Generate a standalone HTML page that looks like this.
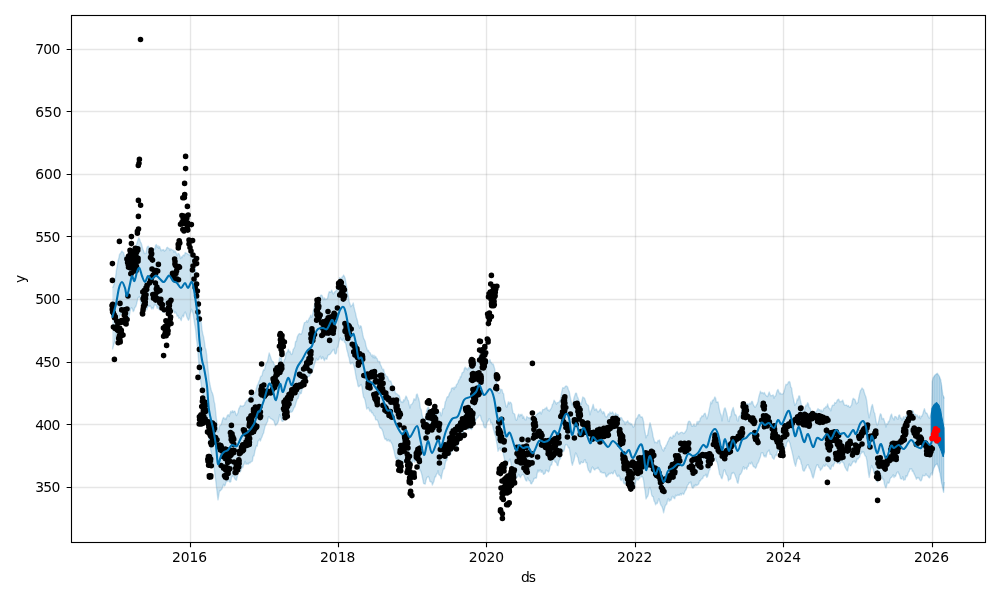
<!DOCTYPE html>
<html><head><meta charset="utf-8"><title>forecast</title>
<style>html,body{margin:0;padding:0;background:#fff;width:1000px;height:600px;overflow:hidden}</style></head>
<body>
<svg width="1000" height="600" viewBox="0 0 1000 600" style="display:block;font-family:'DejaVu Sans','Liberation Sans',sans-serif;font-size:13.89px">
<rect width="1000" height="600" fill="#fff"/>
<clipPath id="c"><rect x="71.5" y="15.5" width="914.0" height="527.0"/></clipPath>
<g clip-path="url(#c)">
<path d="M112.4 287.7L113.2 286.7L114.0 284.3L114.8 280.5L115.6 277.1L116.4 270.4L117.2 266.1L118.0 261.2L118.8 258.3L119.6 254.2L120.4 253.7L121.2 252.0L122.0 251.0L122.8 252.4L123.6 252.5L124.4 256.2L125.2 259.8L126.0 263.0L126.8 263.9L127.6 263.2L128.4 261.9L129.2 260.3L130.0 257.0L130.8 250.4L131.6 249.1L132.4 248.4L133.2 248.3L134.0 252.0L134.8 252.2L135.6 250.2L136.4 244.8L137.2 242.4L138.0 240.1L138.8 237.8L139.6 239.1L140.4 241.8L141.2 243.1L142.0 245.9L142.8 249.5L143.6 250.6L144.4 253.5L145.2 253.5L146.0 253.4L146.8 248.1L147.6 246.4L148.4 246.2L149.2 247.9L150.0 250.4L150.8 250.5L151.6 250.1L152.4 249.6L153.2 248.6L154.0 248.5L154.8 249.4L155.6 245.2L156.4 244.6L157.2 247.5L158.0 245.7L158.8 248.3L159.6 246.5L160.4 248.7L161.2 250.9L162.0 249.7L162.8 250.0L163.6 249.6L164.4 251.2L165.2 250.3L166.0 249.8L166.8 247.7L167.6 247.3L168.4 248.4L169.2 248.4L170.0 250.5L170.8 248.9L171.6 249.6L172.4 249.9L173.2 250.1L174.0 252.3L174.8 250.7L175.6 251.8L176.4 253.6L177.2 255.8L178.0 253.4L178.8 253.6L179.6 255.1L180.4 258.6L181.2 256.8L182.0 257.7L182.8 255.8L183.6 254.9L184.4 255.8L185.2 252.4L186.0 253.2L186.8 253.3L187.6 253.9L188.4 254.3L189.2 255.1L190.0 254.6L190.8 251.6L191.6 252.6L192.4 253.7L193.2 255.6L194.0 261.5L194.8 266.5L195.6 270.1L196.4 278.6L197.2 285.7L198.0 289.6L198.8 298.5L199.6 311.2L200.4 318.7L201.2 322.1L202.0 329.8L202.8 333.9L203.6 336.9L204.4 341.7L205.2 347.7L206.0 350.0L206.8 355.7L207.6 365.1L208.4 372.2L209.2 380.6L210.0 384.4L210.8 388.8L211.6 391.5L212.4 393.1L213.2 395.7L214.0 401.0L214.8 404.2L215.6 411.4L216.4 419.0L217.2 424.1L218.0 432.1L218.8 430.4L219.6 425.8L220.4 425.4L221.2 424.5L222.0 421.8L222.8 418.7L223.6 417.4L224.4 418.9L225.2 418.3L226.0 419.6L226.8 417.0L227.6 415.1L228.4 414.7L229.2 416.5L230.0 413.7L230.8 411.3L231.6 412.7L232.4 410.6L233.2 412.6L234.0 411.1L234.8 411.1L235.6 413.2L236.4 415.5L237.2 414.4L238.0 412.5L238.8 408.8L239.6 407.4L240.4 405.5L241.2 406.4L242.0 405.9L242.8 406.5L243.6 405.4L244.4 405.4L245.2 402.4L246.0 401.7L246.8 400.6L247.6 399.7L248.4 400.9L249.2 398.5L250.0 397.2L250.8 395.8L251.6 397.3L252.4 396.7L253.2 395.2L254.0 393.4L254.8 393.2L255.6 392.1L256.4 388.2L257.2 385.5L258.0 384.3L258.8 381.7L259.6 380.0L260.4 377.2L261.2 376.0L262.0 375.7L262.8 371.7L263.6 369.7L264.4 370.2L265.2 366.9L266.0 363.4L266.8 362.4L267.6 361.1L268.4 356.8L269.2 353.0L270.0 355.2L270.8 357.6L271.6 360.3L272.4 361.2L273.2 361.8L274.0 364.1L274.8 365.3L275.6 367.8L276.4 367.6L277.2 366.6L278.0 364.7L278.8 362.4L279.6 357.6L280.4 358.4L281.2 357.4L282.0 361.4L282.8 363.3L283.6 363.1L284.4 359.3L285.2 358.8L286.0 353.0L286.8 352.6L287.6 351.3L288.4 349.3L289.2 352.0L290.0 351.2L290.8 353.8L291.6 354.6L292.4 353.3L293.2 349.2L294.0 348.5L294.8 346.7L295.6 341.4L296.4 341.5L297.2 337.1L298.0 335.4L298.8 334.0L299.6 333.5L300.4 334.1L301.2 334.3L302.0 332.4L302.8 329.2L303.6 325.6L304.4 322.6L305.2 322.4L306.0 322.0L306.8 320.6L307.6 322.2L308.4 320.2L309.2 318.3L310.0 317.3L310.8 315.1L311.6 317.2L312.4 315.2L313.2 311.8L314.0 307.9L314.8 303.5L315.6 301.2L316.4 300.5L317.2 299.3L318.0 300.6L318.8 300.0L319.6 297.9L320.4 295.8L321.2 295.0L322.0 295.4L322.8 297.6L323.6 299.7L324.4 297.9L325.2 299.6L326.0 299.0L326.8 299.2L327.6 298.1L328.4 294.3L329.2 291.6L330.0 292.3L330.8 292.2L331.6 290.1L332.4 292.1L333.2 294.0L334.0 293.1L334.8 291.8L335.6 291.3L336.4 290.2L337.2 286.5L338.0 282.5L338.8 281.4L339.6 277.6L340.4 278.6L341.2 278.9L342.0 277.1L342.8 276.6L343.6 275.0L344.4 276.5L345.2 278.4L346.0 283.5L346.8 287.6L347.6 293.1L348.4 296.3L349.2 301.7L350.0 304.0L350.8 306.7L351.6 305.7L352.4 305.2L353.2 302.9L354.0 307.0L354.8 310.6L355.6 313.4L356.4 317.5L357.2 319.7L358.0 324.0L358.8 325.6L359.6 328.2L360.4 325.7L361.2 326.3L362.0 330.3L362.8 334.7L363.6 338.3L364.4 339.7L365.2 341.5L366.0 346.1L366.8 348.2L367.6 350.8L368.4 350.3L369.2 352.2L370.0 352.6L370.8 354.2L371.6 356.1L372.4 354.9L373.2 357.7L374.0 355.1L374.8 358.1L375.6 356.3L376.4 358.1L377.2 358.8L378.0 361.5L378.8 361.5L379.6 361.5L380.4 364.7L381.2 366.0L382.0 368.3L382.8 369.7L383.6 369.2L384.4 373.2L385.2 373.9L386.0 376.3L386.8 376.3L387.6 376.9L388.4 379.1L389.2 380.9L390.0 381.5L390.8 380.9L391.6 383.5L392.4 385.8L393.2 385.8L394.0 388.2L394.8 390.8L395.6 393.8L396.4 393.4L397.2 394.1L398.0 395.2L398.8 395.1L399.6 396.8L400.4 400.2L401.2 402.0L402.0 401.7L402.8 402.5L403.6 399.7L404.4 400.8L405.2 398.2L406.0 396.0L406.8 397.3L407.6 399.9L408.4 400.8L409.2 404.8L410.0 408.0L410.8 404.7L411.6 404.4L412.4 403.5L413.2 401.7L414.0 398.7L414.8 399.7L415.6 399.8L416.4 394.8L417.2 394.0L418.0 396.7L418.8 399.0L419.6 402.7L420.4 408.6L421.2 409.4L422.0 415.1L422.8 417.3L423.6 418.6L424.4 421.9L425.2 417.9L426.0 414.1L426.8 410.2L427.6 408.0L428.4 407.0L429.2 409.2L430.0 411.8L430.8 416.0L431.6 418.8L432.4 418.7L433.2 417.8L434.0 417.8L434.8 416.9L435.6 413.8L436.4 414.1L437.2 412.9L438.0 410.5L438.8 411.5L439.6 412.2L440.4 412.5L441.2 415.9L442.0 413.6L442.8 408.8L443.6 408.9L444.4 407.8L445.2 402.0L446.0 400.7L446.8 397.7L447.6 396.6L448.4 396.8L449.2 394.0L450.0 392.4L450.8 391.6L451.6 388.2L452.4 388.3L453.2 387.5L454.0 389.6L454.8 386.9L455.6 387.6L456.4 384.7L457.2 383.9L458.0 382.5L458.8 380.0L459.6 379.4L460.4 376.5L461.2 376.9L462.0 373.0L462.8 372.3L463.6 372.1L464.4 368.5L465.2 367.2L466.0 368.9L466.8 368.3L467.6 370.0L468.4 368.0L469.2 366.9L470.0 368.8L470.8 366.6L471.6 368.0L472.4 368.2L473.2 364.7L474.0 364.0L474.8 365.3L475.6 361.8L476.4 362.4L477.2 361.5L478.0 360.2L478.8 358.0L479.6 354.5L480.4 358.7L481.2 357.9L482.0 361.3L482.8 363.8L483.6 364.0L484.4 365.3L485.2 363.7L486.0 364.1L486.8 360.6L487.6 362.4L488.4 360.6L489.2 361.2L490.0 359.6L490.8 362.6L491.6 362.6L492.4 364.6L493.2 363.9L494.0 366.5L494.8 369.4L495.6 376.6L496.4 381.9L497.2 385.6L498.0 392.2L498.8 393.0L499.6 393.3L500.4 389.2L501.2 389.5L502.0 389.7L502.8 393.0L503.6 393.7L504.4 399.8L505.2 402.6L506.0 406.5L506.8 407.1L507.6 404.7L508.4 401.8L509.2 404.1L510.0 402.1L510.8 402.5L511.6 404.0L512.4 410.0L513.2 413.3L514.0 413.6L514.8 414.4L515.6 419.4L516.4 420.3L517.2 418.9L518.0 415.4L518.8 414.1L519.6 416.7L520.4 414.4L521.2 415.2L522.0 414.2L522.8 418.3L523.6 416.2L524.4 418.8L525.2 419.8L526.0 419.8L526.8 416.4L527.6 417.4L528.4 417.6L529.2 418.4L530.0 417.6L530.8 419.2L531.6 422.0L532.4 420.9L533.2 423.5L534.0 421.1L534.8 418.2L535.6 415.8L536.4 414.7L537.2 414.3L538.0 413.1L538.8 413.2L539.6 412.2L540.4 411.9L541.2 414.1L542.0 411.7L542.8 409.4L543.6 409.6L544.4 409.5L545.2 408.2L546.0 408.7L546.8 407.1L547.6 410.2L548.4 409.9L549.2 411.2L550.0 410.0L550.8 408.9L551.6 407.7L552.4 404.3L553.2 403.7L554.0 400.3L554.8 401.3L555.6 402.4L556.4 404.2L557.2 402.6L558.0 402.7L558.8 402.3L559.6 401.0L560.4 400.1L561.2 394.5L562.0 390.6L562.8 387.6L563.6 388.1L564.4 387.9L565.2 386.6L566.0 385.9L566.8 386.2L567.6 387.0L568.4 389.7L569.2 391.3L570.0 395.6L570.8 399.7L571.6 403.5L572.4 405.4L573.2 402.6L574.0 397.9L574.8 395.5L575.6 393.1L576.4 393.1L577.2 396.2L578.0 398.0L578.8 400.2L579.6 402.6L580.4 402.9L581.2 404.3L582.0 400.3L582.8 397.0L583.6 397.8L584.4 397.9L585.2 400.0L586.0 402.8L586.8 404.1L587.6 405.2L588.4 405.5L589.2 410.6L590.0 414.8L590.8 411.4L591.6 409.5L592.4 407.1L593.2 404.3L594.0 408.1L594.8 410.4L595.6 409.2L596.4 408.9L597.2 410.9L598.0 412.1L598.8 411.2L599.6 410.2L600.4 408.8L601.2 410.6L602.0 411.9L602.8 413.7L603.6 411.6L604.4 413.0L605.2 416.1L606.0 417.0L606.8 416.8L607.6 415.4L608.4 413.7L609.2 414.9L610.0 412.0L610.8 413.5L611.6 413.3L612.4 411.9L613.2 413.1L614.0 415.1L614.8 415.2L615.6 413.0L616.4 414.4L617.2 414.7L618.0 414.4L618.8 417.8L619.6 419.3L620.4 417.6L621.2 417.5L622.0 418.4L622.8 420.4L623.6 420.8L624.4 422.0L625.2 424.5L626.0 421.8L626.8 422.5L627.6 420.7L628.4 422.2L629.2 423.5L630.0 422.9L630.8 424.6L631.6 423.8L632.4 425.5L633.2 427.3L634.0 426.6L634.8 424.1L635.6 420.5L636.4 418.2L637.2 418.3L638.0 415.9L638.8 414.5L639.6 414.6L640.4 416.7L641.2 417.3L642.0 416.8L642.8 418.6L643.6 421.9L644.4 429.3L645.2 433.0L646.0 437.9L646.8 435.6L647.6 435.3L648.4 430.5L649.2 426.6L650.0 422.8L650.8 425.5L651.6 428.9L652.4 432.3L653.2 437.3L654.0 439.7L654.8 442.7L655.6 442.2L656.4 442.6L657.2 443.0L658.0 440.4L658.8 440.8L659.6 440.0L660.4 444.6L661.2 446.1L662.0 448.8L662.8 449.9L663.6 451.0L664.4 447.6L665.2 448.3L666.0 445.4L666.8 444.5L667.6 442.1L668.4 440.8L669.2 438.8L670.0 437.3L670.8 437.0L671.6 438.2L672.4 438.1L673.2 435.2L674.0 436.6L674.8 435.8L675.6 433.3L676.4 432.5L677.2 431.5L678.0 433.6L678.8 434.1L679.6 433.4L680.4 432.6L681.2 432.4L682.0 432.3L682.8 432.7L683.6 433.6L684.4 433.2L685.2 431.8L686.0 431.1L686.8 428.9L687.6 424.3L688.4 421.6L689.2 421.2L690.0 421.6L690.8 423.3L691.6 425.8L692.4 426.3L693.2 425.8L694.0 424.0L694.8 426.3L695.6 426.4L696.4 424.3L697.2 421.4L698.0 424.0L698.8 421.1L699.6 421.6L700.4 418.0L701.2 417.8L702.0 415.8L702.8 416.6L703.6 415.0L704.4 413.5L705.2 413.3L706.0 416.2L706.8 418.9L707.6 416.9L708.4 414.3L709.2 409.9L710.0 406.1L710.8 401.9L711.6 403.8L712.4 400.3L713.2 400.6L714.0 399.0L714.8 396.9L715.6 398.2L716.4 402.3L717.2 401.9L718.0 401.9L718.8 406.5L719.6 410.6L720.4 413.7L721.2 415.2L722.0 420.8L722.8 415.6L723.6 411.6L724.4 408.4L725.2 407.9L726.0 410.8L726.8 413.8L727.6 417.5L728.4 421.4L729.2 421.5L730.0 416.6L730.8 416.6L731.6 411.8L732.4 409.5L733.2 407.4L734.0 410.9L734.8 414.7L735.6 414.6L736.4 416.1L737.2 420.4L738.0 421.1L738.8 416.7L739.6 416.0L740.4 415.3L741.2 412.3L742.0 408.4L742.8 409.3L743.6 408.1L744.4 406.3L745.2 405.2L746.0 405.5L746.8 403.9L747.6 403.8L748.4 404.2L749.2 404.1L750.0 403.0L750.8 404.0L751.6 401.5L752.4 401.4L753.2 404.3L754.0 405.8L754.8 407.0L755.6 407.1L756.4 405.1L757.2 403.8L758.0 401.4L758.8 397.0L759.6 394.3L760.4 391.2L761.2 393.0L762.0 392.5L762.8 392.8L763.6 393.7L764.4 392.4L765.2 394.4L766.0 395.5L766.8 396.1L767.6 396.6L768.4 394.1L769.2 391.9L770.0 394.4L770.8 395.9L771.6 395.6L772.4 395.5L773.2 394.9L774.0 398.2L774.8 396.2L775.6 396.1L776.4 393.1L777.2 390.6L778.0 389.4L778.8 391.5L779.6 393.8L780.4 392.9L781.2 394.4L782.0 394.2L782.8 394.0L783.6 392.8L784.4 390.3L785.2 387.2L786.0 384.3L786.8 384.7L787.6 383.9L788.4 382.0L789.2 381.5L790.0 382.3L790.8 387.1L791.6 387.9L792.4 393.9L793.2 397.6L794.0 401.5L794.8 405.3L795.6 404.3L796.4 402.8L797.2 399.0L798.0 400.0L798.8 395.9L799.6 396.0L800.4 400.3L801.2 403.7L802.0 407.4L802.8 410.1L803.6 413.8L804.4 410.8L805.2 406.9L806.0 405.0L806.8 405.9L807.6 402.7L808.4 403.9L809.2 407.6L810.0 407.8L810.8 410.5L811.6 414.7L812.4 417.4L813.2 417.1L814.0 414.9L814.8 411.9L815.6 412.7L816.4 411.5L817.2 410.2L818.0 408.6L818.8 409.9L819.6 409.6L820.4 411.0L821.2 410.0L822.0 411.9L822.8 411.0L823.6 408.9L824.4 407.9L825.2 408.0L826.0 406.4L826.8 407.1L827.6 404.0L828.4 407.1L829.2 408.5L830.0 408.7L830.8 410.9L831.6 407.4L832.4 405.3L833.2 405.3L834.0 405.2L834.8 402.4L835.6 403.2L836.4 402.5L837.2 400.2L838.0 399.5L838.8 399.2L839.6 401.7L840.4 401.8L841.2 401.2L842.0 401.7L842.8 400.1L843.6 403.1L844.4 404.9L845.2 405.3L846.0 405.3L846.8 405.0L847.6 406.5L848.4 405.6L849.2 407.0L850.0 407.3L850.8 406.0L851.6 405.2L852.4 400.6L853.2 398.3L854.0 399.3L854.8 399.3L855.6 401.2L856.4 403.9L857.2 403.0L858.0 402.4L858.8 397.6L859.6 393.9L860.4 390.6L861.2 389.8L862.0 388.0L862.8 388.9L863.6 389.8L864.4 393.1L865.2 395.2L866.0 397.3L866.8 401.4L867.6 408.2L868.4 414.1L869.2 417.9L870.0 414.1L870.8 410.6L871.6 406.5L872.4 404.5L873.2 408.1L874.0 412.1L874.8 413.5L875.6 418.7L876.4 423.0L877.2 425.4L878.0 423.9L878.8 420.7L879.6 416.6L880.4 413.8L881.2 414.7L882.0 419.1L882.8 418.5L883.6 418.5L884.4 421.1L885.2 423.5L886.0 427.0L886.8 423.6L887.6 424.2L888.4 421.4L889.2 421.7L890.0 418.3L890.8 415.4L891.6 414.1L892.4 417.7L893.2 418.3L894.0 420.0L894.8 416.5L895.6 416.6L896.4 417.3L897.2 418.8L898.0 419.2L898.8 415.3L899.6 414.9L900.4 418.1L901.2 418.0L902.0 420.3L902.8 418.5L903.6 416.6L904.4 419.3L905.2 416.7L906.0 416.2L906.8 414.5L907.6 414.1L908.4 415.2L909.2 415.5L910.0 414.9L910.8 411.2L911.6 412.7L912.4 410.5L913.2 411.5L914.0 414.9L914.8 414.1L915.6 414.5L916.4 415.9L917.2 415.0L918.0 416.8L918.8 417.8L919.6 415.8L920.4 418.7L921.2 416.1L922.0 416.2L922.8 414.0L923.6 411.1L924.4 408.6L925.2 411.4L926.0 413.3L926.8 413.1L927.6 414.8L928.4 416.9L929.2 418.2L930.0 417.4L930.8 413.3L931.6 411.2L932.2 382.0L933.0 378.0L935.0 375.0L937.2 373.2L939.2 376.0L940.8 380.0L941.6 385.6L942.8 394.4L944.4 398.4L944.4 482.0L943.6 492.4L941.6 483.2L940.0 473.6L938.4 467.2L937.2 464.0L935.6 464.8L933.6 468.8L932.2 475.0L931.6 473.0L930.8 473.8L930.0 477.0L929.2 477.9L928.4 477.0L927.6 475.7L926.8 475.3L926.0 473.8L925.2 475.6L924.4 475.7L923.6 475.7L922.8 475.3L922.0 478.7L921.2 480.8L920.4 480.8L919.6 479.7L918.8 477.6L918.0 478.3L917.2 477.5L916.4 479.3L915.6 477.0L914.8 475.2L914.0 473.7L913.2 471.1L912.4 471.6L911.6 468.8L910.8 469.2L910.0 468.8L909.2 471.4L908.4 472.5L907.6 475.1L906.8 476.7L906.0 475.7L905.2 479.8L904.4 479.4L903.6 480.2L902.8 476.7L902.0 478.9L901.2 479.0L900.4 478.4L899.6 475.2L898.8 473.7L898.0 471.8L897.2 472.3L896.4 473.9L895.6 476.4L894.8 475.8L894.0 477.6L893.2 474.8L892.4 476.2L891.6 477.4L890.8 477.6L890.0 479.3L889.2 482.6L888.4 483.2L887.6 482.1L886.8 485.1L886.0 487.9L885.2 486.6L884.4 484.2L883.6 479.3L882.8 479.2L882.0 476.9L881.2 475.2L880.4 475.8L879.6 478.6L878.8 477.7L878.0 478.7L877.2 482.1L876.4 480.1L875.6 475.1L874.8 473.4L874.0 472.9L873.2 469.1L872.4 467.7L871.6 465.5L870.8 468.6L870.0 472.7L869.2 477.5L868.4 472.4L867.6 466.4L866.8 460.2L866.0 456.6L865.2 456.0L864.4 454.3L863.6 451.7L862.8 452.5L862.0 451.4L861.2 453.5L860.4 454.1L859.6 457.3L858.8 457.6L858.0 459.3L857.2 458.5L856.4 461.7L855.6 462.9L854.8 461.0L854.0 461.7L853.2 461.3L852.4 462.9L851.6 464.3L850.8 465.9L850.0 465.7L849.2 463.9L848.4 466.9L847.6 471.1L846.8 470.4L846.0 469.0L845.2 467.7L844.4 465.5L843.6 462.8L842.8 462.6L842.0 460.6L841.2 461.8L840.4 462.9L839.6 463.7L838.8 462.7L838.0 462.8L837.2 463.4L836.4 461.0L835.6 459.4L834.8 463.1L834.0 463.9L833.2 466.4L832.4 465.0L831.6 466.4L830.8 469.4L830.0 469.2L829.2 467.7L828.4 466.4L827.6 466.2L826.8 465.1L826.0 464.1L825.2 466.1L824.4 466.3L823.6 465.1L822.8 466.7L822.0 468.6L821.2 469.2L820.4 470.5L819.6 467.6L818.8 467.5L818.0 464.9L817.2 464.7L816.4 466.1L815.6 468.5L814.8 471.4L814.0 475.4L813.2 478.1L812.4 476.7L811.6 473.5L810.8 470.9L810.0 468.8L809.2 468.1L808.4 464.8L807.6 465.0L806.8 465.3L806.0 467.7L805.2 468.7L804.4 471.0L803.6 471.0L802.8 470.1L802.0 465.3L801.2 463.4L800.4 459.3L799.6 459.3L798.8 456.3L798.0 458.4L797.2 459.1L796.4 462.4L795.6 466.3L794.8 464.0L794.0 461.1L793.2 456.9L792.4 453.3L791.6 449.9L790.8 447.0L790.0 443.5L789.2 441.4L788.4 440.2L787.6 441.9L786.8 442.3L786.0 446.6L785.2 446.0L784.4 449.8L783.6 448.6L782.8 452.4L782.0 454.7L781.2 451.8L780.4 449.9L779.6 450.1L778.8 451.1L778.0 450.5L777.2 452.1L776.4 455.6L775.6 455.0L774.8 457.0L774.0 459.3L773.2 458.3L772.4 457.8L771.6 454.9L770.8 454.4L770.0 454.3L769.2 450.0L768.4 451.2L767.6 451.4L766.8 453.7L766.0 457.2L765.2 455.2L764.4 456.8L763.6 455.4L762.8 452.7L762.0 452.8L761.2 453.2L760.4 456.9L759.6 458.8L758.8 461.3L758.0 462.8L757.2 463.9L756.4 466.8L755.6 468.2L754.8 467.2L754.0 466.9L753.2 466.2L752.4 464.0L751.6 462.1L750.8 464.1L750.0 463.4L749.2 463.2L748.4 466.3L747.6 466.3L746.8 469.4L746.0 467.8L745.2 468.1L744.4 469.2L743.6 466.6L742.8 468.5L742.0 471.5L741.2 473.1L740.4 474.5L739.6 474.5L738.8 479.2L738.0 483.3L737.2 482.3L736.4 478.8L735.6 476.9L734.8 474.5L734.0 473.1L733.2 472.4L732.4 473.6L731.6 473.3L730.8 478.5L730.0 479.4L729.2 479.5L728.4 481.0L727.6 476.2L726.8 475.1L726.0 474.1L725.2 470.9L724.4 469.6L723.6 471.4L722.8 475.8L722.0 478.8L721.2 477.9L720.4 475.1L719.6 474.6L718.8 470.2L718.0 465.7L717.2 461.9L716.4 461.2L715.6 458.2L714.8 458.4L714.0 460.6L713.2 461.7L712.4 462.7L711.6 462.3L710.8 464.1L710.0 469.6L709.2 470.6L708.4 473.3L707.6 476.3L706.8 477.4L706.0 474.2L705.2 475.6L704.4 475.8L703.6 476.0L702.8 478.3L702.0 478.8L701.2 479.3L700.4 481.0L699.6 480.7L698.8 483.9L698.0 484.6L697.2 485.2L696.4 485.5L695.6 484.5L694.8 486.6L694.0 485.2L693.2 488.1L692.4 488.1L691.6 486.0L690.8 481.9L690.0 483.0L689.2 482.5L688.4 484.5L687.6 485.0L686.8 487.6L686.0 489.9L685.2 490.8L684.4 492.8L683.6 494.4L682.8 493.3L682.0 493.4L681.2 495.1L680.4 493.6L679.6 495.2L678.8 495.4L678.0 494.6L677.2 495.6L676.4 495.8L675.6 495.1L674.8 498.7L674.0 498.3L673.2 496.6L672.4 496.3L671.6 498.7L670.8 500.5L670.0 499.4L669.2 501.3L668.4 498.6L667.6 500.1L666.8 504.1L666.0 504.8L665.2 506.0L664.4 509.2L663.6 512.8L662.8 509.0L662.0 506.7L661.2 505.6L660.4 504.0L659.6 500.9L658.8 498.6L658.0 501.2L657.2 503.5L656.4 503.2L655.6 504.8L654.8 502.1L654.0 500.9L653.2 496.7L652.4 496.4L651.6 494.7L650.8 490.1L650.0 487.6L649.2 488.4L648.4 494.2L647.6 496.5L646.8 497.4L646.0 499.0L645.2 491.4L644.4 487.2L643.6 480.7L642.8 477.3L642.0 476.4L641.2 477.0L640.4 475.4L639.6 478.5L638.8 478.8L638.0 480.2L637.2 478.9L636.4 478.9L635.6 481.9L634.8 486.3L634.0 487.1L633.2 486.1L632.4 487.0L631.6 486.7L630.8 483.5L630.0 482.0L629.2 483.6L628.4 483.3L627.6 484.6L626.8 484.5L626.0 483.4L625.2 482.6L624.4 483.9L623.6 482.8L622.8 478.8L622.0 479.0L621.2 480.6L620.4 479.5L619.6 476.4L618.8 475.1L618.0 476.7L617.2 476.2L616.4 474.7L615.6 473.2L614.8 470.4L614.0 471.6L613.2 473.7L612.4 473.7L611.6 472.5L610.8 473.3L610.0 473.9L609.2 473.3L608.4 475.0L607.6 475.0L606.8 476.8L606.0 476.7L605.2 473.5L604.4 472.5L603.6 473.1L602.8 472.6L602.0 473.0L601.2 471.6L600.4 472.2L599.6 470.1L598.8 469.3L598.0 467.3L597.2 468.7L596.4 468.5L595.6 468.6L594.8 470.1L594.0 469.4L593.2 467.9L592.4 467.0L591.6 468.8L590.8 472.2L590.0 472.8L589.2 471.0L588.4 470.2L587.6 467.4L586.8 462.8L586.0 462.9L585.2 459.7L584.4 460.1L583.6 462.4L582.8 462.7L582.0 462.4L581.2 461.6L580.4 463.9L579.6 464.2L578.8 462.0L578.0 457.7L577.2 456.5L576.4 453.6L575.6 453.0L574.8 456.4L574.0 460.2L573.2 462.2L572.4 465.3L571.6 462.5L570.8 456.9L570.0 452.8L569.2 447.4L568.4 448.1L567.6 445.8L566.8 444.6L566.0 444.5L565.2 445.6L564.4 449.6L563.6 451.5L562.8 450.9L562.0 452.1L561.2 455.0L560.4 458.8L559.6 459.5L558.8 461.4L558.0 465.7L557.2 465.4L556.4 462.3L555.6 462.3L554.8 461.3L554.0 458.0L553.2 459.4L552.4 461.7L551.6 465.0L550.8 464.9L550.0 467.1L549.2 470.8L548.4 471.9L547.6 471.1L546.8 470.7L546.0 469.9L545.2 473.2L544.4 473.7L543.6 474.4L542.8 472.5L542.0 470.4L541.2 472.4L540.4 469.8L539.6 470.4L538.8 472.0L538.0 470.0L537.2 473.5L536.4 478.1L535.6 477.9L534.8 478.5L534.0 478.4L533.2 481.2L532.4 482.1L531.6 483.9L530.8 483.7L530.0 480.8L529.2 480.9L528.4 479.3L527.6 477.6L526.8 481.1L526.0 480.7L525.2 479.2L524.4 476.6L523.6 474.8L522.8 474.4L522.0 475.0L521.2 475.9L520.4 477.6L519.6 476.4L518.8 474.2L518.0 476.1L517.2 477.3L516.4 477.4L515.6 478.7L514.8 475.8L514.0 472.8L513.2 473.1L512.4 469.6L511.6 468.2L510.8 462.5L510.0 459.1L509.2 460.4L508.4 462.0L507.6 464.7L506.8 467.3L506.0 465.9L505.2 464.4L504.4 458.6L503.6 455.3L502.8 449.6L502.0 447.8L501.2 447.1L500.4 450.4L499.6 447.9L498.8 449.0L498.0 451.3L497.2 445.4L496.4 440.6L495.6 436.1L494.8 434.2L494.0 431.3L493.2 428.5L492.4 424.4L491.6 422.4L490.8 423.2L490.0 419.6L489.2 418.6L488.4 420.5L487.6 421.5L486.8 423.1L486.0 427.7L485.2 427.7L484.4 427.6L483.6 425.4L482.8 421.7L482.0 420.9L481.2 419.0L480.4 415.4L479.6 415.2L478.8 415.9L478.0 417.5L477.2 418.1L476.4 418.6L475.6 420.8L474.8 422.5L474.0 425.3L473.2 424.0L472.4 427.8L471.6 429.5L470.8 428.9L470.0 428.3L469.2 428.5L468.4 429.5L467.6 429.0L466.8 426.4L466.0 427.1L465.2 429.3L464.4 429.6L463.6 430.8L462.8 435.4L462.0 435.9L461.2 437.6L460.4 436.6L459.6 439.2L458.8 443.1L458.0 444.5L457.2 446.4L456.4 448.5L455.6 450.0L454.8 448.9L454.0 450.1L453.2 449.2L452.4 450.9L451.6 449.8L450.8 454.2L450.0 454.9L449.2 455.7L448.4 455.4L447.6 456.7L446.8 460.5L446.0 460.0L445.2 463.7L444.4 468.8L443.6 468.8L442.8 470.9L442.0 474.4L441.2 478.9L440.4 475.9L439.6 475.3L438.8 474.7L438.0 470.6L437.2 473.6L436.4 474.5L435.6 477.0L434.8 477.0L434.0 481.2L433.2 483.0L432.4 485.0L431.6 481.8L430.8 482.0L430.0 481.5L429.2 478.3L428.4 476.4L427.6 477.0L426.8 477.8L426.0 480.4L425.2 484.0L424.4 483.9L423.6 483.4L422.8 479.5L422.0 475.5L421.2 472.4L420.4 470.2L419.6 469.8L418.8 465.3L418.0 462.2L417.2 457.2L416.4 457.8L415.6 459.6L414.8 462.3L414.0 460.4L413.2 459.9L412.4 462.5L411.6 465.1L410.8 466.6L410.0 467.1L409.2 464.8L408.4 463.2L407.6 460.6L406.8 459.5L406.0 459.4L405.2 459.2L404.4 461.3L403.6 462.6L402.8 462.6L402.0 462.7L401.2 463.6L400.4 463.5L399.6 463.4L398.8 460.3L398.0 459.6L397.2 457.9L396.4 459.3L395.6 457.9L394.8 454.7L394.0 450.9L393.2 448.0L392.4 444.8L391.6 443.2L390.8 441.8L390.0 440.2L389.2 441.6L388.4 439.5L387.6 440.7L386.8 440.7L386.0 438.6L385.2 439.4L384.4 437.8L383.6 434.9L382.8 431.4L382.0 429.6L381.2 428.2L380.4 428.2L379.6 427.0L378.8 424.1L378.0 421.4L377.2 420.1L376.4 419.6L375.6 419.7L374.8 416.1L374.0 415.8L373.2 414.5L372.4 412.4L371.6 412.9L370.8 410.1L370.0 411.4L369.2 409.8L368.4 407.6L367.6 408.0L366.8 409.0L366.0 405.3L365.2 400.7L364.4 398.3L363.6 397.3L362.8 393.3L362.0 386.9L361.2 384.4L360.4 385.2L359.6 386.1L358.8 386.7L358.0 386.0L357.2 381.2L356.4 378.8L355.6 374.3L354.8 369.4L354.0 366.0L353.2 363.6L352.4 362.5L351.6 363.1L350.8 364.1L350.0 363.1L349.2 358.3L348.4 356.1L347.6 352.2L346.8 349.7L346.0 344.8L345.2 342.3L344.4 342.2L343.6 338.2L342.8 340.5L342.0 340.3L341.2 339.6L340.4 337.7L339.6 340.0L338.8 342.6L338.0 346.9L337.2 347.7L336.4 353.1L335.6 354.0L334.8 353.4L334.0 349.3L333.2 349.8L332.4 350.8L331.6 352.0L330.8 353.3L330.0 354.3L329.2 354.7L328.4 354.8L327.6 356.4L326.8 359.3L326.0 358.7L325.2 358.3L324.4 360.8L323.6 359.0L322.8 356.8L322.0 358.4L321.2 359.0L320.4 356.2L319.6 356.8L318.8 359.5L318.0 360.0L317.2 360.0L316.4 358.3L315.6 361.2L314.8 363.0L314.0 366.1L313.2 368.5L312.4 371.2L311.6 372.9L310.8 373.2L310.0 375.2L309.2 376.4L308.4 376.4L307.6 376.9L306.8 379.3L306.0 379.3L305.2 382.2L304.4 385.0L303.6 384.7L302.8 386.6L302.0 389.6L301.2 393.5L300.4 393.9L299.6 392.0L298.8 396.0L298.0 398.7L297.2 399.1L296.4 401.6L295.6 404.2L294.8 407.1L294.0 407.5L293.2 409.8L292.4 411.4L291.6 412.0L290.8 412.4L290.0 410.5L289.2 410.3L288.4 411.4L287.6 410.1L286.8 411.8L286.0 411.3L285.2 414.7L284.4 417.9L283.6 420.6L282.8 421.4L282.0 421.2L281.2 419.2L280.4 415.7L279.6 414.8L278.8 419.7L278.0 422.4L277.2 423.9L276.4 424.4L275.6 425.6L274.8 423.9L274.0 421.2L273.2 420.0L272.4 419.9L271.6 418.7L270.8 418.7L270.0 418.1L269.2 416.6L268.4 416.9L267.6 421.5L266.8 422.8L266.0 424.8L265.2 426.1L264.4 429.2L263.6 433.1L262.8 434.4L262.0 437.0L261.2 438.5L260.4 441.1L259.6 439.0L258.8 440.8L258.0 441.1L257.2 446.2L256.4 445.7L255.6 448.5L254.8 451.6L254.0 456.0L253.2 456.2L252.4 461.1L251.6 461.6L250.8 462.0L250.0 463.1L249.2 462.6L248.4 464.1L247.6 464.0L246.8 463.2L246.0 464.4L245.2 461.3L244.4 463.7L243.6 464.7L242.8 467.7L242.0 466.3L241.2 469.6L240.4 471.7L239.6 471.7L238.8 470.3L238.0 473.0L237.2 477.0L236.4 480.3L235.6 479.7L234.8 478.7L234.0 477.1L233.2 475.0L232.4 476.5L231.6 477.1L230.8 481.7L230.0 482.2L229.2 481.5L228.4 479.0L227.6 481.1L226.8 481.6L226.0 482.1L225.2 485.2L224.4 486.0L223.6 484.3L222.8 486.4L222.0 488.9L221.2 489.7L220.4 490.9L219.6 490.5L218.8 494.9L218.0 499.9L217.2 493.1L216.4 486.3L215.6 479.5L214.8 473.4L214.0 466.0L213.2 461.2L212.4 457.6L211.6 453.7L210.8 450.8L210.0 445.2L209.2 443.8L208.4 433.8L207.6 422.7L206.8 414.3L206.0 411.8L205.2 407.1L204.4 399.4L203.6 395.3L202.8 392.5L202.0 392.0L201.2 384.1L200.4 379.3L199.6 373.3L198.8 362.8L198.0 352.9L197.2 344.2L196.4 338.4L195.6 329.5L194.8 324.9L194.0 319.6L193.2 314.2L192.4 311.6L191.6 309.2L190.8 311.5L190.0 314.4L189.2 318.9L188.4 320.3L187.6 318.6L186.8 316.8L186.0 313.9L185.2 312.1L184.4 313.1L183.6 316.9L182.8 315.3L182.0 317.2L181.2 320.7L180.4 319.0L179.6 317.8L178.8 318.2L178.0 315.6L177.2 316.2L176.4 313.5L175.6 312.0L174.8 313.3L174.0 311.7L173.2 310.3L172.4 311.0L171.6 311.6L170.8 311.6L170.0 308.8L169.2 305.7L168.4 305.6L167.6 306.3L166.8 308.9L166.0 310.7L165.2 311.6L164.4 311.8L163.6 312.3L162.8 312.2L162.0 310.2L161.2 308.4L160.4 309.6L159.6 310.0L158.8 308.8L158.0 306.5L157.2 308.4L156.4 305.4L155.6 305.2L154.8 304.2L154.0 306.4L153.2 308.9L152.4 307.7L151.6 309.1L150.8 306.8L150.0 305.8L149.2 306.5L148.4 305.6L147.6 306.9L146.8 309.8L146.0 308.3L145.2 309.2L144.4 308.9L143.6 309.0L142.8 305.5L142.0 305.8L141.2 305.4L140.4 300.3L139.6 296.4L138.8 297.3L138.0 298.0L137.2 301.4L136.4 304.7L135.6 306.9L134.8 307.5L134.0 310.5L133.2 311.5L132.4 308.7L131.6 307.7L130.8 308.4L130.0 311.8L129.2 316.3L128.4 317.0L127.6 321.1L126.8 324.9L126.0 321.9L125.2 317.8L124.4 315.7L123.6 315.7L122.8 314.8L122.0 310.5L121.2 313.8L120.4 314.8L119.6 315.7L118.8 321.0L118.0 323.5L117.2 330.1L116.4 333.2L115.6 337.0L114.8 341.6L114.0 343.7L113.2 346.8L112.4 349.5Z" fill="#0072B2" fill-opacity=".2"/>
<path d="M112.4 287.7L113.2 286.7L114.0 284.3L114.8 280.5L115.6 277.1L116.4 270.4L117.2 266.1L118.0 261.2L118.8 258.3L119.6 254.2L120.4 253.7L121.2 252.0L122.0 251.0L122.8 252.4L123.6 252.5L124.4 256.2L125.2 259.8L126.0 263.0L126.8 263.9L127.6 263.2L128.4 261.9L129.2 260.3L130.0 257.0L130.8 250.4L131.6 249.1L132.4 248.4L133.2 248.3L134.0 252.0L134.8 252.2L135.6 250.2L136.4 244.8L137.2 242.4L138.0 240.1L138.8 237.8L139.6 239.1L140.4 241.8L141.2 243.1L142.0 245.9L142.8 249.5L143.6 250.6L144.4 253.5L145.2 253.5L146.0 253.4L146.8 248.1L147.6 246.4L148.4 246.2L149.2 247.9L150.0 250.4L150.8 250.5L151.6 250.1L152.4 249.6L153.2 248.6L154.0 248.5L154.8 249.4L155.6 245.2L156.4 244.6L157.2 247.5L158.0 245.7L158.8 248.3L159.6 246.5L160.4 248.7L161.2 250.9L162.0 249.7L162.8 250.0L163.6 249.6L164.4 251.2L165.2 250.3L166.0 249.8L166.8 247.7L167.6 247.3L168.4 248.4L169.2 248.4L170.0 250.5L170.8 248.9L171.6 249.6L172.4 249.9L173.2 250.1L174.0 252.3L174.8 250.7L175.6 251.8L176.4 253.6L177.2 255.8L178.0 253.4L178.8 253.6L179.6 255.1L180.4 258.6L181.2 256.8L182.0 257.7L182.8 255.8L183.6 254.9L184.4 255.8L185.2 252.4L186.0 253.2L186.8 253.3L187.6 253.9L188.4 254.3L189.2 255.1L190.0 254.6L190.8 251.6L191.6 252.6L192.4 253.7L193.2 255.6L194.0 261.5L194.8 266.5L195.6 270.1L196.4 278.6L197.2 285.7L198.0 289.6L198.8 298.5L199.6 311.2L200.4 318.7L201.2 322.1L202.0 329.8L202.8 333.9L203.6 336.9L204.4 341.7L205.2 347.7L206.0 350.0L206.8 355.7L207.6 365.1L208.4 372.2L209.2 380.6L210.0 384.4L210.8 388.8L211.6 391.5L212.4 393.1L213.2 395.7L214.0 401.0L214.8 404.2L215.6 411.4L216.4 419.0L217.2 424.1L218.0 432.1L218.8 430.4L219.6 425.8L220.4 425.4L221.2 424.5L222.0 421.8L222.8 418.7L223.6 417.4L224.4 418.9L225.2 418.3L226.0 419.6L226.8 417.0L227.6 415.1L228.4 414.7L229.2 416.5L230.0 413.7L230.8 411.3L231.6 412.7L232.4 410.6L233.2 412.6L234.0 411.1L234.8 411.1L235.6 413.2L236.4 415.5L237.2 414.4L238.0 412.5L238.8 408.8L239.6 407.4L240.4 405.5L241.2 406.4L242.0 405.9L242.8 406.5L243.6 405.4L244.4 405.4L245.2 402.4L246.0 401.7L246.8 400.6L247.6 399.7L248.4 400.9L249.2 398.5L250.0 397.2L250.8 395.8L251.6 397.3L252.4 396.7L253.2 395.2L254.0 393.4L254.8 393.2L255.6 392.1L256.4 388.2L257.2 385.5L258.0 384.3L258.8 381.7L259.6 380.0L260.4 377.2L261.2 376.0L262.0 375.7L262.8 371.7L263.6 369.7L264.4 370.2L265.2 366.9L266.0 363.4L266.8 362.4L267.6 361.1L268.4 356.8L269.2 353.0L270.0 355.2L270.8 357.6L271.6 360.3L272.4 361.2L273.2 361.8L274.0 364.1L274.8 365.3L275.6 367.8L276.4 367.6L277.2 366.6L278.0 364.7L278.8 362.4L279.6 357.6L280.4 358.4L281.2 357.4L282.0 361.4L282.8 363.3L283.6 363.1L284.4 359.3L285.2 358.8L286.0 353.0L286.8 352.6L287.6 351.3L288.4 349.3L289.2 352.0L290.0 351.2L290.8 353.8L291.6 354.6L292.4 353.3L293.2 349.2L294.0 348.5L294.8 346.7L295.6 341.4L296.4 341.5L297.2 337.1L298.0 335.4L298.8 334.0L299.6 333.5L300.4 334.1L301.2 334.3L302.0 332.4L302.8 329.2L303.6 325.6L304.4 322.6L305.2 322.4L306.0 322.0L306.8 320.6L307.6 322.2L308.4 320.2L309.2 318.3L310.0 317.3L310.8 315.1L311.6 317.2L312.4 315.2L313.2 311.8L314.0 307.9L314.8 303.5L315.6 301.2L316.4 300.5L317.2 299.3L318.0 300.6L318.8 300.0L319.6 297.9L320.4 295.8L321.2 295.0L322.0 295.4L322.8 297.6L323.6 299.7L324.4 297.9L325.2 299.6L326.0 299.0L326.8 299.2L327.6 298.1L328.4 294.3L329.2 291.6L330.0 292.3L330.8 292.2L331.6 290.1L332.4 292.1L333.2 294.0L334.0 293.1L334.8 291.8L335.6 291.3L336.4 290.2L337.2 286.5L338.0 282.5L338.8 281.4L339.6 277.6L340.4 278.6L341.2 278.9L342.0 277.1L342.8 276.6L343.6 275.0L344.4 276.5L345.2 278.4L346.0 283.5L346.8 287.6L347.6 293.1L348.4 296.3L349.2 301.7L350.0 304.0L350.8 306.7L351.6 305.7L352.4 305.2L353.2 302.9L354.0 307.0L354.8 310.6L355.6 313.4L356.4 317.5L357.2 319.7L358.0 324.0L358.8 325.6L359.6 328.2L360.4 325.7L361.2 326.3L362.0 330.3L362.8 334.7L363.6 338.3L364.4 339.7L365.2 341.5L366.0 346.1L366.8 348.2L367.6 350.8L368.4 350.3L369.2 352.2L370.0 352.6L370.8 354.2L371.6 356.1L372.4 354.9L373.2 357.7L374.0 355.1L374.8 358.1L375.6 356.3L376.4 358.1L377.2 358.8L378.0 361.5L378.8 361.5L379.6 361.5L380.4 364.7L381.2 366.0L382.0 368.3L382.8 369.7L383.6 369.2L384.4 373.2L385.2 373.9L386.0 376.3L386.8 376.3L387.6 376.9L388.4 379.1L389.2 380.9L390.0 381.5L390.8 380.9L391.6 383.5L392.4 385.8L393.2 385.8L394.0 388.2L394.8 390.8L395.6 393.8L396.4 393.4L397.2 394.1L398.0 395.2L398.8 395.1L399.6 396.8L400.4 400.2L401.2 402.0L402.0 401.7L402.8 402.5L403.6 399.7L404.4 400.8L405.2 398.2L406.0 396.0L406.8 397.3L407.6 399.9L408.4 400.8L409.2 404.8L410.0 408.0L410.8 404.7L411.6 404.4L412.4 403.5L413.2 401.7L414.0 398.7L414.8 399.7L415.6 399.8L416.4 394.8L417.2 394.0L418.0 396.7L418.8 399.0L419.6 402.7L420.4 408.6L421.2 409.4L422.0 415.1L422.8 417.3L423.6 418.6L424.4 421.9L425.2 417.9L426.0 414.1L426.8 410.2L427.6 408.0L428.4 407.0L429.2 409.2L430.0 411.8L430.8 416.0L431.6 418.8L432.4 418.7L433.2 417.8L434.0 417.8L434.8 416.9L435.6 413.8L436.4 414.1L437.2 412.9L438.0 410.5L438.8 411.5L439.6 412.2L440.4 412.5L441.2 415.9L442.0 413.6L442.8 408.8L443.6 408.9L444.4 407.8L445.2 402.0L446.0 400.7L446.8 397.7L447.6 396.6L448.4 396.8L449.2 394.0L450.0 392.4L450.8 391.6L451.6 388.2L452.4 388.3L453.2 387.5L454.0 389.6L454.8 386.9L455.6 387.6L456.4 384.7L457.2 383.9L458.0 382.5L458.8 380.0L459.6 379.4L460.4 376.5L461.2 376.9L462.0 373.0L462.8 372.3L463.6 372.1L464.4 368.5L465.2 367.2L466.0 368.9L466.8 368.3L467.6 370.0L468.4 368.0L469.2 366.9L470.0 368.8L470.8 366.6L471.6 368.0L472.4 368.2L473.2 364.7L474.0 364.0L474.8 365.3L475.6 361.8L476.4 362.4L477.2 361.5L478.0 360.2L478.8 358.0L479.6 354.5L480.4 358.7L481.2 357.9L482.0 361.3L482.8 363.8L483.6 364.0L484.4 365.3L485.2 363.7L486.0 364.1L486.8 360.6L487.6 362.4L488.4 360.6L489.2 361.2L490.0 359.6L490.8 362.6L491.6 362.6L492.4 364.6L493.2 363.9L494.0 366.5L494.8 369.4L495.6 376.6L496.4 381.9L497.2 385.6L498.0 392.2L498.8 393.0L499.6 393.3L500.4 389.2L501.2 389.5L502.0 389.7L502.8 393.0L503.6 393.7L504.4 399.8L505.2 402.6L506.0 406.5L506.8 407.1L507.6 404.7L508.4 401.8L509.2 404.1L510.0 402.1L510.8 402.5L511.6 404.0L512.4 410.0L513.2 413.3L514.0 413.6L514.8 414.4L515.6 419.4L516.4 420.3L517.2 418.9L518.0 415.4L518.8 414.1L519.6 416.7L520.4 414.4L521.2 415.2L522.0 414.2L522.8 418.3L523.6 416.2L524.4 418.8L525.2 419.8L526.0 419.8L526.8 416.4L527.6 417.4L528.4 417.6L529.2 418.4L530.0 417.6L530.8 419.2L531.6 422.0L532.4 420.9L533.2 423.5L534.0 421.1L534.8 418.2L535.6 415.8L536.4 414.7L537.2 414.3L538.0 413.1L538.8 413.2L539.6 412.2L540.4 411.9L541.2 414.1L542.0 411.7L542.8 409.4L543.6 409.6L544.4 409.5L545.2 408.2L546.0 408.7L546.8 407.1L547.6 410.2L548.4 409.9L549.2 411.2L550.0 410.0L550.8 408.9L551.6 407.7L552.4 404.3L553.2 403.7L554.0 400.3L554.8 401.3L555.6 402.4L556.4 404.2L557.2 402.6L558.0 402.7L558.8 402.3L559.6 401.0L560.4 400.1L561.2 394.5L562.0 390.6L562.8 387.6L563.6 388.1L564.4 387.9L565.2 386.6L566.0 385.9L566.8 386.2L567.6 387.0L568.4 389.7L569.2 391.3L570.0 395.6L570.8 399.7L571.6 403.5L572.4 405.4L573.2 402.6L574.0 397.9L574.8 395.5L575.6 393.1L576.4 393.1L577.2 396.2L578.0 398.0L578.8 400.2L579.6 402.6L580.4 402.9L581.2 404.3L582.0 400.3L582.8 397.0L583.6 397.8L584.4 397.9L585.2 400.0L586.0 402.8L586.8 404.1L587.6 405.2L588.4 405.5L589.2 410.6L590.0 414.8L590.8 411.4L591.6 409.5L592.4 407.1L593.2 404.3L594.0 408.1L594.8 410.4L595.6 409.2L596.4 408.9L597.2 410.9L598.0 412.1L598.8 411.2L599.6 410.2L600.4 408.8L601.2 410.6L602.0 411.9L602.8 413.7L603.6 411.6L604.4 413.0L605.2 416.1L606.0 417.0L606.8 416.8L607.6 415.4L608.4 413.7L609.2 414.9L610.0 412.0L610.8 413.5L611.6 413.3L612.4 411.9L613.2 413.1L614.0 415.1L614.8 415.2L615.6 413.0L616.4 414.4L617.2 414.7L618.0 414.4L618.8 417.8L619.6 419.3L620.4 417.6L621.2 417.5L622.0 418.4L622.8 420.4L623.6 420.8L624.4 422.0L625.2 424.5L626.0 421.8L626.8 422.5L627.6 420.7L628.4 422.2L629.2 423.5L630.0 422.9L630.8 424.6L631.6 423.8L632.4 425.5L633.2 427.3L634.0 426.6L634.8 424.1L635.6 420.5L636.4 418.2L637.2 418.3L638.0 415.9L638.8 414.5L639.6 414.6L640.4 416.7L641.2 417.3L642.0 416.8L642.8 418.6L643.6 421.9L644.4 429.3L645.2 433.0L646.0 437.9L646.8 435.6L647.6 435.3L648.4 430.5L649.2 426.6L650.0 422.8L650.8 425.5L651.6 428.9L652.4 432.3L653.2 437.3L654.0 439.7L654.8 442.7L655.6 442.2L656.4 442.6L657.2 443.0L658.0 440.4L658.8 440.8L659.6 440.0L660.4 444.6L661.2 446.1L662.0 448.8L662.8 449.9L663.6 451.0L664.4 447.6L665.2 448.3L666.0 445.4L666.8 444.5L667.6 442.1L668.4 440.8L669.2 438.8L670.0 437.3L670.8 437.0L671.6 438.2L672.4 438.1L673.2 435.2L674.0 436.6L674.8 435.8L675.6 433.3L676.4 432.5L677.2 431.5L678.0 433.6L678.8 434.1L679.6 433.4L680.4 432.6L681.2 432.4L682.0 432.3L682.8 432.7L683.6 433.6L684.4 433.2L685.2 431.8L686.0 431.1L686.8 428.9L687.6 424.3L688.4 421.6L689.2 421.2L690.0 421.6L690.8 423.3L691.6 425.8L692.4 426.3L693.2 425.8L694.0 424.0L694.8 426.3L695.6 426.4L696.4 424.3L697.2 421.4L698.0 424.0L698.8 421.1L699.6 421.6L700.4 418.0L701.2 417.8L702.0 415.8L702.8 416.6L703.6 415.0L704.4 413.5L705.2 413.3L706.0 416.2L706.8 418.9L707.6 416.9L708.4 414.3L709.2 409.9L710.0 406.1L710.8 401.9L711.6 403.8L712.4 400.3L713.2 400.6L714.0 399.0L714.8 396.9L715.6 398.2L716.4 402.3L717.2 401.9L718.0 401.9L718.8 406.5L719.6 410.6L720.4 413.7L721.2 415.2L722.0 420.8L722.8 415.6L723.6 411.6L724.4 408.4L725.2 407.9L726.0 410.8L726.8 413.8L727.6 417.5L728.4 421.4L729.2 421.5L730.0 416.6L730.8 416.6L731.6 411.8L732.4 409.5L733.2 407.4L734.0 410.9L734.8 414.7L735.6 414.6L736.4 416.1L737.2 420.4L738.0 421.1L738.8 416.7L739.6 416.0L740.4 415.3L741.2 412.3L742.0 408.4L742.8 409.3L743.6 408.1L744.4 406.3L745.2 405.2L746.0 405.5L746.8 403.9L747.6 403.8L748.4 404.2L749.2 404.1L750.0 403.0L750.8 404.0L751.6 401.5L752.4 401.4L753.2 404.3L754.0 405.8L754.8 407.0L755.6 407.1L756.4 405.1L757.2 403.8L758.0 401.4L758.8 397.0L759.6 394.3L760.4 391.2L761.2 393.0L762.0 392.5L762.8 392.8L763.6 393.7L764.4 392.4L765.2 394.4L766.0 395.5L766.8 396.1L767.6 396.6L768.4 394.1L769.2 391.9L770.0 394.4L770.8 395.9L771.6 395.6L772.4 395.5L773.2 394.9L774.0 398.2L774.8 396.2L775.6 396.1L776.4 393.1L777.2 390.6L778.0 389.4L778.8 391.5L779.6 393.8L780.4 392.9L781.2 394.4L782.0 394.2L782.8 394.0L783.6 392.8L784.4 390.3L785.2 387.2L786.0 384.3L786.8 384.7L787.6 383.9L788.4 382.0L789.2 381.5L790.0 382.3L790.8 387.1L791.6 387.9L792.4 393.9L793.2 397.6L794.0 401.5L794.8 405.3L795.6 404.3L796.4 402.8L797.2 399.0L798.0 400.0L798.8 395.9L799.6 396.0L800.4 400.3L801.2 403.7L802.0 407.4L802.8 410.1L803.6 413.8L804.4 410.8L805.2 406.9L806.0 405.0L806.8 405.9L807.6 402.7L808.4 403.9L809.2 407.6L810.0 407.8L810.8 410.5L811.6 414.7L812.4 417.4L813.2 417.1L814.0 414.9L814.8 411.9L815.6 412.7L816.4 411.5L817.2 410.2L818.0 408.6L818.8 409.9L819.6 409.6L820.4 411.0L821.2 410.0L822.0 411.9L822.8 411.0L823.6 408.9L824.4 407.9L825.2 408.0L826.0 406.4L826.8 407.1L827.6 404.0L828.4 407.1L829.2 408.5L830.0 408.7L830.8 410.9L831.6 407.4L832.4 405.3L833.2 405.3L834.0 405.2L834.8 402.4L835.6 403.2L836.4 402.5L837.2 400.2L838.0 399.5L838.8 399.2L839.6 401.7L840.4 401.8L841.2 401.2L842.0 401.7L842.8 400.1L843.6 403.1L844.4 404.9L845.2 405.3L846.0 405.3L846.8 405.0L847.6 406.5L848.4 405.6L849.2 407.0L850.0 407.3L850.8 406.0L851.6 405.2L852.4 400.6L853.2 398.3L854.0 399.3L854.8 399.3L855.6 401.2L856.4 403.9L857.2 403.0L858.0 402.4L858.8 397.6L859.6 393.9L860.4 390.6L861.2 389.8L862.0 388.0L862.8 388.9L863.6 389.8L864.4 393.1L865.2 395.2L866.0 397.3L866.8 401.4L867.6 408.2L868.4 414.1L869.2 417.9L870.0 414.1L870.8 410.6L871.6 406.5L872.4 404.5L873.2 408.1L874.0 412.1L874.8 413.5L875.6 418.7L876.4 423.0L877.2 425.4L878.0 423.9L878.8 420.7L879.6 416.6L880.4 413.8L881.2 414.7L882.0 419.1L882.8 418.5L883.6 418.5L884.4 421.1L885.2 423.5L886.0 427.0L886.8 423.6L887.6 424.2L888.4 421.4L889.2 421.7L890.0 418.3L890.8 415.4L891.6 414.1L892.4 417.7L893.2 418.3L894.0 420.0L894.8 416.5L895.6 416.6L896.4 417.3L897.2 418.8L898.0 419.2L898.8 415.3L899.6 414.9L900.4 418.1L901.2 418.0L902.0 420.3L902.8 418.5L903.6 416.6L904.4 419.3L905.2 416.7L906.0 416.2L906.8 414.5L907.6 414.1L908.4 415.2L909.2 415.5L910.0 414.9L910.8 411.2L911.6 412.7L912.4 410.5L913.2 411.5L914.0 414.9L914.8 414.1L915.6 414.5L916.4 415.9L917.2 415.0L918.0 416.8L918.8 417.8L919.6 415.8L920.4 418.7L921.2 416.1L922.0 416.2L922.8 414.0L923.6 411.1L924.4 408.6L925.2 411.4L926.0 413.3L926.8 413.1L927.6 414.8L928.4 416.9L929.2 418.2L930.0 417.4L930.8 413.3L931.6 411.2L932.2 382.0L933.0 378.0L935.0 375.0L937.2 373.2L939.2 376.0L940.8 380.0L941.6 385.6L942.8 394.4L944.4 398.4" fill="none" stroke="#0072B2" stroke-opacity=".2" stroke-width="1.39" stroke-linejoin="round"/>
<path d="M112.4 349.5L113.2 346.8L114.0 343.7L114.8 341.6L115.6 337.0L116.4 333.2L117.2 330.1L118.0 323.5L118.8 321.0L119.6 315.7L120.4 314.8L121.2 313.8L122.0 310.5L122.8 314.8L123.6 315.7L124.4 315.7L125.2 317.8L126.0 321.9L126.8 324.9L127.6 321.1L128.4 317.0L129.2 316.3L130.0 311.8L130.8 308.4L131.6 307.7L132.4 308.7L133.2 311.5L134.0 310.5L134.8 307.5L135.6 306.9L136.4 304.7L137.2 301.4L138.0 298.0L138.8 297.3L139.6 296.4L140.4 300.3L141.2 305.4L142.0 305.8L142.8 305.5L143.6 309.0L144.4 308.9L145.2 309.2L146.0 308.3L146.8 309.8L147.6 306.9L148.4 305.6L149.2 306.5L150.0 305.8L150.8 306.8L151.6 309.1L152.4 307.7L153.2 308.9L154.0 306.4L154.8 304.2L155.6 305.2L156.4 305.4L157.2 308.4L158.0 306.5L158.8 308.8L159.6 310.0L160.4 309.6L161.2 308.4L162.0 310.2L162.8 312.2L163.6 312.3L164.4 311.8L165.2 311.6L166.0 310.7L166.8 308.9L167.6 306.3L168.4 305.6L169.2 305.7L170.0 308.8L170.8 311.6L171.6 311.6L172.4 311.0L173.2 310.3L174.0 311.7L174.8 313.3L175.6 312.0L176.4 313.5L177.2 316.2L178.0 315.6L178.8 318.2L179.6 317.8L180.4 319.0L181.2 320.7L182.0 317.2L182.8 315.3L183.6 316.9L184.4 313.1L185.2 312.1L186.0 313.9L186.8 316.8L187.6 318.6L188.4 320.3L189.2 318.9L190.0 314.4L190.8 311.5L191.6 309.2L192.4 311.6L193.2 314.2L194.0 319.6L194.8 324.9L195.6 329.5L196.4 338.4L197.2 344.2L198.0 352.9L198.8 362.8L199.6 373.3L200.4 379.3L201.2 384.1L202.0 392.0L202.8 392.5L203.6 395.3L204.4 399.4L205.2 407.1L206.0 411.8L206.8 414.3L207.6 422.7L208.4 433.8L209.2 443.8L210.0 445.2L210.8 450.8L211.6 453.7L212.4 457.6L213.2 461.2L214.0 466.0L214.8 473.4L215.6 479.5L216.4 486.3L217.2 493.1L218.0 499.9L218.8 494.9L219.6 490.5L220.4 490.9L221.2 489.7L222.0 488.9L222.8 486.4L223.6 484.3L224.4 486.0L225.2 485.2L226.0 482.1L226.8 481.6L227.6 481.1L228.4 479.0L229.2 481.5L230.0 482.2L230.8 481.7L231.6 477.1L232.4 476.5L233.2 475.0L234.0 477.1L234.8 478.7L235.6 479.7L236.4 480.3L237.2 477.0L238.0 473.0L238.8 470.3L239.6 471.7L240.4 471.7L241.2 469.6L242.0 466.3L242.8 467.7L243.6 464.7L244.4 463.7L245.2 461.3L246.0 464.4L246.8 463.2L247.6 464.0L248.4 464.1L249.2 462.6L250.0 463.1L250.8 462.0L251.6 461.6L252.4 461.1L253.2 456.2L254.0 456.0L254.8 451.6L255.6 448.5L256.4 445.7L257.2 446.2L258.0 441.1L258.8 440.8L259.6 439.0L260.4 441.1L261.2 438.5L262.0 437.0L262.8 434.4L263.6 433.1L264.4 429.2L265.2 426.1L266.0 424.8L266.8 422.8L267.6 421.5L268.4 416.9L269.2 416.6L270.0 418.1L270.8 418.7L271.6 418.7L272.4 419.9L273.2 420.0L274.0 421.2L274.8 423.9L275.6 425.6L276.4 424.4L277.2 423.9L278.0 422.4L278.8 419.7L279.6 414.8L280.4 415.7L281.2 419.2L282.0 421.2L282.8 421.4L283.6 420.6L284.4 417.9L285.2 414.7L286.0 411.3L286.8 411.8L287.6 410.1L288.4 411.4L289.2 410.3L290.0 410.5L290.8 412.4L291.6 412.0L292.4 411.4L293.2 409.8L294.0 407.5L294.8 407.1L295.6 404.2L296.4 401.6L297.2 399.1L298.0 398.7L298.8 396.0L299.6 392.0L300.4 393.9L301.2 393.5L302.0 389.6L302.8 386.6L303.6 384.7L304.4 385.0L305.2 382.2L306.0 379.3L306.8 379.3L307.6 376.9L308.4 376.4L309.2 376.4L310.0 375.2L310.8 373.2L311.6 372.9L312.4 371.2L313.2 368.5L314.0 366.1L314.8 363.0L315.6 361.2L316.4 358.3L317.2 360.0L318.0 360.0L318.8 359.5L319.6 356.8L320.4 356.2L321.2 359.0L322.0 358.4L322.8 356.8L323.6 359.0L324.4 360.8L325.2 358.3L326.0 358.7L326.8 359.3L327.6 356.4L328.4 354.8L329.2 354.7L330.0 354.3L330.8 353.3L331.6 352.0L332.4 350.8L333.2 349.8L334.0 349.3L334.8 353.4L335.6 354.0L336.4 353.1L337.2 347.7L338.0 346.9L338.8 342.6L339.6 340.0L340.4 337.7L341.2 339.6L342.0 340.3L342.8 340.5L343.6 338.2L344.4 342.2L345.2 342.3L346.0 344.8L346.8 349.7L347.6 352.2L348.4 356.1L349.2 358.3L350.0 363.1L350.8 364.1L351.6 363.1L352.4 362.5L353.2 363.6L354.0 366.0L354.8 369.4L355.6 374.3L356.4 378.8L357.2 381.2L358.0 386.0L358.8 386.7L359.6 386.1L360.4 385.2L361.2 384.4L362.0 386.9L362.8 393.3L363.6 397.3L364.4 398.3L365.2 400.7L366.0 405.3L366.8 409.0L367.6 408.0L368.4 407.6L369.2 409.8L370.0 411.4L370.8 410.1L371.6 412.9L372.4 412.4L373.2 414.5L374.0 415.8L374.8 416.1L375.6 419.7L376.4 419.6L377.2 420.1L378.0 421.4L378.8 424.1L379.6 427.0L380.4 428.2L381.2 428.2L382.0 429.6L382.8 431.4L383.6 434.9L384.4 437.8L385.2 439.4L386.0 438.6L386.8 440.7L387.6 440.7L388.4 439.5L389.2 441.6L390.0 440.2L390.8 441.8L391.6 443.2L392.4 444.8L393.2 448.0L394.0 450.9L394.8 454.7L395.6 457.9L396.4 459.3L397.2 457.9L398.0 459.6L398.8 460.3L399.6 463.4L400.4 463.5L401.2 463.6L402.0 462.7L402.8 462.6L403.6 462.6L404.4 461.3L405.2 459.2L406.0 459.4L406.8 459.5L407.6 460.6L408.4 463.2L409.2 464.8L410.0 467.1L410.8 466.6L411.6 465.1L412.4 462.5L413.2 459.9L414.0 460.4L414.8 462.3L415.6 459.6L416.4 457.8L417.2 457.2L418.0 462.2L418.8 465.3L419.6 469.8L420.4 470.2L421.2 472.4L422.0 475.5L422.8 479.5L423.6 483.4L424.4 483.9L425.2 484.0L426.0 480.4L426.8 477.8L427.6 477.0L428.4 476.4L429.2 478.3L430.0 481.5L430.8 482.0L431.6 481.8L432.4 485.0L433.2 483.0L434.0 481.2L434.8 477.0L435.6 477.0L436.4 474.5L437.2 473.6L438.0 470.6L438.8 474.7L439.6 475.3L440.4 475.9L441.2 478.9L442.0 474.4L442.8 470.9L443.6 468.8L444.4 468.8L445.2 463.7L446.0 460.0L446.8 460.5L447.6 456.7L448.4 455.4L449.2 455.7L450.0 454.9L450.8 454.2L451.6 449.8L452.4 450.9L453.2 449.2L454.0 450.1L454.8 448.9L455.6 450.0L456.4 448.5L457.2 446.4L458.0 444.5L458.8 443.1L459.6 439.2L460.4 436.6L461.2 437.6L462.0 435.9L462.8 435.4L463.6 430.8L464.4 429.6L465.2 429.3L466.0 427.1L466.8 426.4L467.6 429.0L468.4 429.5L469.2 428.5L470.0 428.3L470.8 428.9L471.6 429.5L472.4 427.8L473.2 424.0L474.0 425.3L474.8 422.5L475.6 420.8L476.4 418.6L477.2 418.1L478.0 417.5L478.8 415.9L479.6 415.2L480.4 415.4L481.2 419.0L482.0 420.9L482.8 421.7L483.6 425.4L484.4 427.6L485.2 427.7L486.0 427.7L486.8 423.1L487.6 421.5L488.4 420.5L489.2 418.6L490.0 419.6L490.8 423.2L491.6 422.4L492.4 424.4L493.2 428.5L494.0 431.3L494.8 434.2L495.6 436.1L496.4 440.6L497.2 445.4L498.0 451.3L498.8 449.0L499.6 447.9L500.4 450.4L501.2 447.1L502.0 447.8L502.8 449.6L503.6 455.3L504.4 458.6L505.2 464.4L506.0 465.9L506.8 467.3L507.6 464.7L508.4 462.0L509.2 460.4L510.0 459.1L510.8 462.5L511.6 468.2L512.4 469.6L513.2 473.1L514.0 472.8L514.8 475.8L515.6 478.7L516.4 477.4L517.2 477.3L518.0 476.1L518.8 474.2L519.6 476.4L520.4 477.6L521.2 475.9L522.0 475.0L522.8 474.4L523.6 474.8L524.4 476.6L525.2 479.2L526.0 480.7L526.8 481.1L527.6 477.6L528.4 479.3L529.2 480.9L530.0 480.8L530.8 483.7L531.6 483.9L532.4 482.1L533.2 481.2L534.0 478.4L534.8 478.5L535.6 477.9L536.4 478.1L537.2 473.5L538.0 470.0L538.8 472.0L539.6 470.4L540.4 469.8L541.2 472.4L542.0 470.4L542.8 472.5L543.6 474.4L544.4 473.7L545.2 473.2L546.0 469.9L546.8 470.7L547.6 471.1L548.4 471.9L549.2 470.8L550.0 467.1L550.8 464.9L551.6 465.0L552.4 461.7L553.2 459.4L554.0 458.0L554.8 461.3L555.6 462.3L556.4 462.3L557.2 465.4L558.0 465.7L558.8 461.4L559.6 459.5L560.4 458.8L561.2 455.0L562.0 452.1L562.8 450.9L563.6 451.5L564.4 449.6L565.2 445.6L566.0 444.5L566.8 444.6L567.6 445.8L568.4 448.1L569.2 447.4L570.0 452.8L570.8 456.9L571.6 462.5L572.4 465.3L573.2 462.2L574.0 460.2L574.8 456.4L575.6 453.0L576.4 453.6L577.2 456.5L578.0 457.7L578.8 462.0L579.6 464.2L580.4 463.9L581.2 461.6L582.0 462.4L582.8 462.7L583.6 462.4L584.4 460.1L585.2 459.7L586.0 462.9L586.8 462.8L587.6 467.4L588.4 470.2L589.2 471.0L590.0 472.8L590.8 472.2L591.6 468.8L592.4 467.0L593.2 467.9L594.0 469.4L594.8 470.1L595.6 468.6L596.4 468.5L597.2 468.7L598.0 467.3L598.8 469.3L599.6 470.1L600.4 472.2L601.2 471.6L602.0 473.0L602.8 472.6L603.6 473.1L604.4 472.5L605.2 473.5L606.0 476.7L606.8 476.8L607.6 475.0L608.4 475.0L609.2 473.3L610.0 473.9L610.8 473.3L611.6 472.5L612.4 473.7L613.2 473.7L614.0 471.6L614.8 470.4L615.6 473.2L616.4 474.7L617.2 476.2L618.0 476.7L618.8 475.1L619.6 476.4L620.4 479.5L621.2 480.6L622.0 479.0L622.8 478.8L623.6 482.8L624.4 483.9L625.2 482.6L626.0 483.4L626.8 484.5L627.6 484.6L628.4 483.3L629.2 483.6L630.0 482.0L630.8 483.5L631.6 486.7L632.4 487.0L633.2 486.1L634.0 487.1L634.8 486.3L635.6 481.9L636.4 478.9L637.2 478.9L638.0 480.2L638.8 478.8L639.6 478.5L640.4 475.4L641.2 477.0L642.0 476.4L642.8 477.3L643.6 480.7L644.4 487.2L645.2 491.4L646.0 499.0L646.8 497.4L647.6 496.5L648.4 494.2L649.2 488.4L650.0 487.6L650.8 490.1L651.6 494.7L652.4 496.4L653.2 496.7L654.0 500.9L654.8 502.1L655.6 504.8L656.4 503.2L657.2 503.5L658.0 501.2L658.8 498.6L659.6 500.9L660.4 504.0L661.2 505.6L662.0 506.7L662.8 509.0L663.6 512.8L664.4 509.2L665.2 506.0L666.0 504.8L666.8 504.1L667.6 500.1L668.4 498.6L669.2 501.3L670.0 499.4L670.8 500.5L671.6 498.7L672.4 496.3L673.2 496.6L674.0 498.3L674.8 498.7L675.6 495.1L676.4 495.8L677.2 495.6L678.0 494.6L678.8 495.4L679.6 495.2L680.4 493.6L681.2 495.1L682.0 493.4L682.8 493.3L683.6 494.4L684.4 492.8L685.2 490.8L686.0 489.9L686.8 487.6L687.6 485.0L688.4 484.5L689.2 482.5L690.0 483.0L690.8 481.9L691.6 486.0L692.4 488.1L693.2 488.1L694.0 485.2L694.8 486.6L695.6 484.5L696.4 485.5L697.2 485.2L698.0 484.6L698.8 483.9L699.6 480.7L700.4 481.0L701.2 479.3L702.0 478.8L702.8 478.3L703.6 476.0L704.4 475.8L705.2 475.6L706.0 474.2L706.8 477.4L707.6 476.3L708.4 473.3L709.2 470.6L710.0 469.6L710.8 464.1L711.6 462.3L712.4 462.7L713.2 461.7L714.0 460.6L714.8 458.4L715.6 458.2L716.4 461.2L717.2 461.9L718.0 465.7L718.8 470.2L719.6 474.6L720.4 475.1L721.2 477.9L722.0 478.8L722.8 475.8L723.6 471.4L724.4 469.6L725.2 470.9L726.0 474.1L726.8 475.1L727.6 476.2L728.4 481.0L729.2 479.5L730.0 479.4L730.8 478.5L731.6 473.3L732.4 473.6L733.2 472.4L734.0 473.1L734.8 474.5L735.6 476.9L736.4 478.8L737.2 482.3L738.0 483.3L738.8 479.2L739.6 474.5L740.4 474.5L741.2 473.1L742.0 471.5L742.8 468.5L743.6 466.6L744.4 469.2L745.2 468.1L746.0 467.8L746.8 469.4L747.6 466.3L748.4 466.3L749.2 463.2L750.0 463.4L750.8 464.1L751.6 462.1L752.4 464.0L753.2 466.2L754.0 466.9L754.8 467.2L755.6 468.2L756.4 466.8L757.2 463.9L758.0 462.8L758.8 461.3L759.6 458.8L760.4 456.9L761.2 453.2L762.0 452.8L762.8 452.7L763.6 455.4L764.4 456.8L765.2 455.2L766.0 457.2L766.8 453.7L767.6 451.4L768.4 451.2L769.2 450.0L770.0 454.3L770.8 454.4L771.6 454.9L772.4 457.8L773.2 458.3L774.0 459.3L774.8 457.0L775.6 455.0L776.4 455.6L777.2 452.1L778.0 450.5L778.8 451.1L779.6 450.1L780.4 449.9L781.2 451.8L782.0 454.7L782.8 452.4L783.6 448.6L784.4 449.8L785.2 446.0L786.0 446.6L786.8 442.3L787.6 441.9L788.4 440.2L789.2 441.4L790.0 443.5L790.8 447.0L791.6 449.9L792.4 453.3L793.2 456.9L794.0 461.1L794.8 464.0L795.6 466.3L796.4 462.4L797.2 459.1L798.0 458.4L798.8 456.3L799.6 459.3L800.4 459.3L801.2 463.4L802.0 465.3L802.8 470.1L803.6 471.0L804.4 471.0L805.2 468.7L806.0 467.7L806.8 465.3L807.6 465.0L808.4 464.8L809.2 468.1L810.0 468.8L810.8 470.9L811.6 473.5L812.4 476.7L813.2 478.1L814.0 475.4L814.8 471.4L815.6 468.5L816.4 466.1L817.2 464.7L818.0 464.9L818.8 467.5L819.6 467.6L820.4 470.5L821.2 469.2L822.0 468.6L822.8 466.7L823.6 465.1L824.4 466.3L825.2 466.1L826.0 464.1L826.8 465.1L827.6 466.2L828.4 466.4L829.2 467.7L830.0 469.2L830.8 469.4L831.6 466.4L832.4 465.0L833.2 466.4L834.0 463.9L834.8 463.1L835.6 459.4L836.4 461.0L837.2 463.4L838.0 462.8L838.8 462.7L839.6 463.7L840.4 462.9L841.2 461.8L842.0 460.6L842.8 462.6L843.6 462.8L844.4 465.5L845.2 467.7L846.0 469.0L846.8 470.4L847.6 471.1L848.4 466.9L849.2 463.9L850.0 465.7L850.8 465.9L851.6 464.3L852.4 462.9L853.2 461.3L854.0 461.7L854.8 461.0L855.6 462.9L856.4 461.7L857.2 458.5L858.0 459.3L858.8 457.6L859.6 457.3L860.4 454.1L861.2 453.5L862.0 451.4L862.8 452.5L863.6 451.7L864.4 454.3L865.2 456.0L866.0 456.6L866.8 460.2L867.6 466.4L868.4 472.4L869.2 477.5L870.0 472.7L870.8 468.6L871.6 465.5L872.4 467.7L873.2 469.1L874.0 472.9L874.8 473.4L875.6 475.1L876.4 480.1L877.2 482.1L878.0 478.7L878.8 477.7L879.6 478.6L880.4 475.8L881.2 475.2L882.0 476.9L882.8 479.2L883.6 479.3L884.4 484.2L885.2 486.6L886.0 487.9L886.8 485.1L887.6 482.1L888.4 483.2L889.2 482.6L890.0 479.3L890.8 477.6L891.6 477.4L892.4 476.2L893.2 474.8L894.0 477.6L894.8 475.8L895.6 476.4L896.4 473.9L897.2 472.3L898.0 471.8L898.8 473.7L899.6 475.2L900.4 478.4L901.2 479.0L902.0 478.9L902.8 476.7L903.6 480.2L904.4 479.4L905.2 479.8L906.0 475.7L906.8 476.7L907.6 475.1L908.4 472.5L909.2 471.4L910.0 468.8L910.8 469.2L911.6 468.8L912.4 471.6L913.2 471.1L914.0 473.7L914.8 475.2L915.6 477.0L916.4 479.3L917.2 477.5L918.0 478.3L918.8 477.6L919.6 479.7L920.4 480.8L921.2 480.8L922.0 478.7L922.8 475.3L923.6 475.7L924.4 475.7L925.2 475.6L926.0 473.8L926.8 475.3L927.6 475.7L928.4 477.0L929.2 477.9L930.0 477.0L930.8 473.8L931.6 473.0L932.2 475.0L933.6 468.8L935.6 464.8L937.2 464.0L938.4 467.2L940.0 473.6L941.6 483.2L943.6 492.4L944.4 482.0" fill="none" stroke="#0072B2" stroke-opacity=".2" stroke-width="1.39" stroke-linejoin="round"/>
<clipPath id="f"><path d="M932.2 382.0L933.0 378.0L935.0 375.0L937.2 373.2L939.2 376.0L940.8 380.0L941.6 385.6L942.8 394.4L944.4 398.4L944.4 482.0L943.6 492.4L941.6 483.2L940.0 473.6L938.4 467.2L937.2 464.0L935.6 464.8L933.6 468.8L932.2 475.0Z"/></clipPath>
<path d="M932.2 382.0L933.0 378.0L935.0 375.0L937.2 373.2L939.2 376.0L940.8 380.0L941.6 385.6L942.8 394.4L944.4 398.4L944.4 482.0L943.6 492.4L941.6 483.2L940.0 473.6L938.4 467.2L937.2 464.0L935.6 464.8L933.6 468.8L932.2 475.0Z" fill="#0072B2" fill-opacity=".08"/>
<path d="M932.6 360V500M934.8 360V500M937 360V500M939.4 360V500M941.4 360V500M943.4 360V500" stroke="#0072B2" stroke-opacity=".16" stroke-width="1.1" fill="none" clip-path="url(#f)"/>
<path d="M190.50 15.5V542.5M338.50 15.5V542.5M486.50 15.5V542.5M635.50 15.5V542.5M783.50 15.5V542.5M932.50 15.5V542.5" stroke="#808080" stroke-opacity=".2" stroke-width="1.39" fill="none"/>
<path d="M71.5 487.50H985.5M71.5 424.50H985.5M71.5 362.50H985.5M71.5 299.50H985.5M71.5 236.50H985.5M71.5 174.50H985.5M71.5 111.50H985.5M71.5 49.50H985.5" stroke="#808080" stroke-opacity=".2" stroke-width="1.39" fill="none"/>
<path d="M139.4 159.4h.01M139.0 163.2h.01M138.3 165.5h.01M138.4 200.4h.01M140.6 205.2h.01M138.4 216.4h.01M138.5 229.1h.01M137.4 231.4h.01M137.4 233.3h.01M131.4 236.6h.01M119.4 241.4h.01M131.4 243.6h.01M185.6 156.4h.01M185.6 168.6h.01M184.6 183.4h.01M184.7 194.5h.01M184.4 197.6h.01M182.8 197.8h.01M187.4 206.4h.01M181.9 215.5h.01M182.6 215.7h.01M184.3 216.4h.01M184.9 218.5h.01M183.1 218.1h.01M182.9 221.3h.01M182.0 222.2h.01M182.5 223.2h.01M181.7 224.0h.01M180.5 224.3h.01M183.2 223.5h.01M183.4 222.5h.01M184.9 220.5h.01M185.7 221.5h.01M185.1 219.5h.01M186.4 218.6h.01M187.6 215.5h.01M188.2 215.1h.01M186.8 218.2h.01M186.2 219.2h.01M185.9 221.3h.01M187.6 222.7h.01M187.9 223.7h.01M187.5 226.0h.01M187.2 227.3h.01M187.8 230.1h.01M186.9 229.4h.01M184.3 229.8h.01M184.0 230.9h.01M182.8 229.5h.01M191.4 224.6h.01M112.4 263.6h.01M112.4 280.4h.01M112.7 304.4h.01M112.0 305.5h.01M112.4 306.3h.01M112.3 309.4h.01M112.6 309.8h.01M113.3 312.9h.01M112.6 311.9h.01M114.2 314.9h.01M115.3 316.9h.01M114.5 317.8h.01M120.0 303.4h.01M121.7 309.9h.01M124.6 309.7h.01M124.2 311.4h.01M124.4 312.0h.01M125.5 313.2h.01M124.3 315.3h.01M125.4 317.4h.01M127.1 319.5h.01M127.0 309.0h.01M130.0 250.3h.01M130.1 250.6h.01M130.3 254.0h.01M129.9 255.7h.01M128.4 256.4h.01M127.4 258.7h.01M126.9 259.0h.01M127.3 259.2h.01M128.0 260.5h.01M127.6 262.4h.01M128.2 264.5h.01M128.5 267.3h.01M130.3 267.2h.01M129.4 267.6h.01M130.7 265.8h.01M132.8 266.5h.01M132.9 264.0h.01M132.0 263.0h.01M132.5 261.7h.01M133.5 259.8h.01M131.4 259.9h.01M132.5 256.3h.01M132.4 254.3h.01M132.2 254.9h.01M132.9 252.5h.01M131.4 251.7h.01M132.5 251.7h.01M134.6 250.7h.01M135.3 248.3h.01M137.7 249.2h.01M137.8 248.7h.01M137.8 250.3h.01M136.3 251.5h.01M136.7 252.0h.01M135.9 254.3h.01M136.4 257.0h.01M138.1 258.2h.01M138.0 261.2h.01M138.1 259.7h.01M136.0 261.0h.01M135.6 262.6h.01M136.3 266.0h.01M136.5 266.6h.01M135.7 269.1h.01M134.0 270.4h.01M136.0 270.7h.01M134.4 270.9h.01M131.7 272.7h.01M130.8 273.7h.01M131.1 273.8h.01M128.0 296.0h.01M142.8 292.1h.01M144.5 291.7h.01M144.1 293.2h.01M146.0 294.7h.01M143.8 296.8h.01M145.5 298.4h.01M143.6 300.1h.01M143.1 298.8h.01M145.3 302.0h.01M144.3 304.4h.01M144.2 305.9h.01M145.2 304.3h.01M143.5 306.3h.01M143.2 308.8h.01M143.0 310.2h.01M142.4 313.2h.01M142.6 313.9h.01M151.2 250.0h.01M151.0 252.0h.01M151.4 253.1h.01M151.7 253.8h.01M151.5 254.2h.01M150.5 257.4h.01M151.1 258.3h.01M152.5 260.1h.01M158.4 264.4h.01M152.0 269.0h.01M154.1 270.3h.01M154.5 270.5h.01M156.4 270.5h.01M157.7 271.0h.01M155.8 273.0h.01M155.3 273.5h.01M153.3 275.0h.01M153.0 275.5h.01M151.9 276.7h.01M150.9 279.4h.01M150.5 280.9h.01M151.1 279.4h.01M149.5 283.1h.01M149.5 283.1h.01M147.1 285.9h.01M147.0 285.4h.01M146.0 287.7h.01M146.7 289.6h.01M144.2 290.5h.01M155.4 283.1h.01M156.9 287.1h.01M156.3 289.1h.01M156.8 288.0h.01M159.7 290.3h.01M159.2 290.8h.01M160.0 290.6h.01M157.8 291.6h.01M157.5 291.8h.01M155.6 293.9h.01M152.8 294.6h.01M154.3 295.0h.01M153.5 298.2h.01M155.7 300.1h.01M154.1 298.4h.01M155.6 300.0h.01M157.8 298.8h.01M159.8 301.0h.01M160.8 299.4h.01M159.8 302.7h.01M161.5 303.8h.01M161.0 303.9h.01M162.5 304.8h.01M162.0 308.1h.01M164.3 309.7h.01M171.0 300.3h.01M170.0 301.8h.01M169.9 302.1h.01M169.1 305.0h.01M168.4 303.1h.01M169.4 305.4h.01M168.7 307.2h.01M168.9 309.3h.01M169.5 309.5h.01M170.3 311.2h.01M169.3 312.6h.01M168.6 313.8h.01M168.4 313.8h.01M170.6 317.1h.01M170.3 318.9h.01M174.6 259.1h.01M175.0 261.5h.01M174.9 264.1h.01M175.3 265.0h.01M176.1 266.2h.01M176.9 266.8h.01M179.5 267.3h.01M178.8 266.6h.01M177.3 267.8h.01M176.6 270.9h.01M176.4 271.2h.01M176.0 272.8h.01M175.9 273.4h.01M172.5 273.4h.01M172.5 273.9h.01M173.2 275.5h.01M174.4 278.4h.01M177.1 279.1h.01M175.4 280.1h.01M178.5 279.7h.01M179.2 240.7h.01M179.8 243.0h.01M178.7 245.0h.01M178.2 244.4h.01M178.4 246.8h.01M178.3 247.9h.01M189.0 240.0h.01M192.6 240.6h.01M189.0 244.0h.01M191.0 251.0h.01M193.0 255.0h.01M196.6 258.6h.01M196.6 263.6h.01M193.0 266.0h.01M192.4 270.0h.01M196.6 275.0h.01M194.0 279.0h.01M196.6 284.0h.01M197.4 291.0h.01M196.6 296.0h.01M198.4 304.0h.01M198.0 312.0h.01M199.4 319.0h.01M190.0 247.6h.01M194.8 261.0h.01M195.2 287.6h.01M114.4 359.4h.01M113.4 327.1h.01M115.1 328.4h.01M116.5 329.1h.01M117.3 330.1h.01M117.1 328.6h.01M119.8 328.3h.01M119.9 330.2h.01M118.5 331.1h.01M121.3 330.4h.01M121.2 332.0h.01M119.8 332.1h.01M121.5 334.1h.01M123.0 335.0h.01M122.3 335.3h.01M122.1 335.5h.01M120.1 334.2h.01M119.3 336.1h.01M118.7 338.4h.01M119.7 338.6h.01M119.4 339.6h.01M119.0 337.4h.01M120.1 340.7h.01M119.2 341.0h.01M119.9 340.4h.01M120.2 341.9h.01M118.2 342.8h.01M116.7 321.1h.01M117.8 323.5h.01M118.0 321.6h.01M118.9 322.6h.01M120.9 322.4h.01M121.5 320.6h.01M120.9 321.2h.01M123.8 321.4h.01M124.2 320.4h.01M122.6 321.3h.01M125.2 323.3h.01M125.9 322.7h.01M126.1 323.9h.01M165.9 320.8h.01M168.3 321.0h.01M169.5 323.4h.01M167.5 321.9h.01M171.0 323.5h.01M169.8 321.3h.01M168.4 324.2h.01M167.8 323.8h.01M167.0 324.3h.01M168.9 323.8h.01M167.9 325.8h.01M167.5 327.2h.01M164.8 328.5h.01M165.0 326.5h.01M163.4 328.0h.01M165.3 328.4h.01M164.9 329.5h.01M165.9 332.1h.01M165.4 332.8h.01M168.1 330.8h.01M167.8 333.6h.01M167.1 333.1h.01M164.8 334.3h.01M166.2 335.8h.01M163.6 336.2h.01M166.6 345.4h.01M163.6 355.6h.01M199.4 349.4h.01M199.4 367.4h.01M198.0 377.4h.01M202.4 390.4h.01M202.7 398.0h.01M202.4 401.4h.01M203.4 402.6h.01M203.6 401.4h.01M204.7 402.1h.01M204.6 405.5h.01M206.2 405.0h.01M204.9 406.1h.01M205.4 405.8h.01M204.1 405.0h.01M203.7 407.0h.01M203.2 408.5h.01M201.7 406.6h.01M204.3 407.6h.01M203.4 409.1h.01M203.3 411.2h.01M206.0 410.4h.01M205.5 411.4h.01M205.2 411.7h.01M203.3 411.7h.01M202.9 414.9h.01M203.2 413.5h.01M203.9 416.8h.01M201.8 414.8h.01M201.0 414.7h.01M200.6 415.5h.01M199.4 416.8h.01M199.6 419.6h.01M200.2 418.1h.01M200.0 418.8h.01M200.8 418.5h.01M200.8 418.6h.01M204.6 418.5h.01M204.0 420.4h.01M205.2 419.1h.01M202.6 419.9h.01M202.3 421.2h.01M203.5 423.1h.01M202.5 421.1h.01M199.2 424.0h.01M201.3 423.9h.01M208.3 421.8h.01M208.7 424.9h.01M211.0 424.8h.01M212.5 423.0h.01M210.7 422.8h.01M213.1 424.6h.01M214.4 424.7h.01M213.7 425.8h.01M213.3 426.2h.01M212.1 427.9h.01M212.9 429.3h.01M214.5 428.4h.01M212.8 428.2h.01M213.7 430.2h.01M211.3 428.8h.01M211.9 431.0h.01M210.8 430.4h.01M210.8 430.3h.01M209.1 432.3h.01M210.5 433.5h.01M210.2 432.9h.01M208.8 433.0h.01M211.7 435.3h.01M210.2 433.9h.01M211.4 436.8h.01M211.7 436.2h.01M212.5 438.4h.01M212.1 436.0h.01M213.5 437.7h.01M215.6 437.5h.01M217.0 439.8h.01M231.4 425.4h.01M230.4 432.8h.01M232.0 433.9h.01M232.1 434.6h.01M231.3 436.7h.01M232.0 438.1h.01M233.0 437.3h.01M243.4 429.8h.01M244.9 431.8h.01M244.2 431.4h.01M244.9 433.5h.01M245.2 432.3h.01M245.5 433.9h.01M247.9 435.8h.01M251.4 392.4h.01M251.0 400.0h.01M261.6 364.0h.01M258.7 408.6h.01M258.6 407.2h.01M255.5 409.9h.01M256.5 407.8h.01M255.5 409.6h.01M254.6 409.5h.01M253.5 409.4h.01M253.5 411.5h.01M255.3 411.8h.01M254.9 413.1h.01M252.5 416.0h.01M254.0 414.8h.01M251.0 415.8h.01M251.6 418.1h.01M250.5 417.2h.01M252.2 417.0h.01M250.1 420.4h.01M251.3 417.9h.01M248.8 418.9h.01M251.6 420.5h.01M251.0 423.5h.01M249.6 422.4h.01M251.5 424.4h.01M249.2 425.7h.01M249.4 424.3h.01M249.3 426.1h.01M253.0 426.0h.01M254.0 424.3h.01M252.6 426.1h.01M255.7 427.9h.01M254.8 425.9h.01M255.8 427.0h.01M255.4 407.0h.01M256.0 408.8h.01M257.0 408.9h.01M257.3 407.4h.01M257.4 407.6h.01M259.9 406.7h.01M259.0 408.8h.01M259.2 406.6h.01M258.2 409.0h.01M258.9 411.3h.01M260.4 412.1h.01M258.1 410.1h.01M257.3 412.3h.01M259.0 413.0h.01M257.1 413.7h.01M258.4 414.6h.01M259.3 416.1h.01M259.5 414.8h.01M260.6 416.3h.01M260.2 417.6h.01M263.8 385.0h.01M261.8 386.2h.01M261.1 389.2h.01M262.1 388.4h.01M261.1 391.6h.01M261.0 390.1h.01M262.0 391.5h.01M263.0 390.7h.01M261.7 394.0h.01M263.3 395.3h.01M261.1 394.3h.01M261.8 395.0h.01M264.5 396.3h.01M265.1 395.0h.01M265.6 394.7h.01M264.4 395.2h.01M267.3 392.5h.01M266.9 393.5h.01M266.4 392.2h.01M266.9 391.1h.01M267.2 392.3h.01M269.2 391.7h.01M267.8 392.8h.01M270.6 393.0h.01M280.4 333.5h.01M282.0 335.5h.01M279.8 335.0h.01M281.0 337.4h.01M281.8 336.8h.01M280.4 339.7h.01M281.3 339.3h.01M281.0 341.5h.01M280.9 341.2h.01M280.9 341.7h.01M282.4 344.6h.01M280.7 343.0h.01M281.7 344.1h.01M279.4 346.3h.01M282.1 346.0h.01M283.3 346.2h.01M281.9 352.3h.01M281.9 354.5h.01M280.9 367.3h.01M278.4 367.2h.01M278.6 367.6h.01M277.2 367.7h.01M277.7 370.6h.01M275.7 370.0h.01M278.0 371.5h.01M275.8 369.8h.01M277.9 373.5h.01M276.2 371.6h.01M277.4 373.6h.01M277.3 374.4h.01M276.6 373.9h.01M276.1 375.1h.01M274.5 378.1h.01M275.5 377.0h.01M273.1 378.7h.01M274.1 378.6h.01M273.2 379.2h.01M275.5 382.3h.01M273.7 382.2h.01M276.4 381.5h.01M277.1 382.8h.01M276.3 384.2h.01M276.0 384.4h.01M274.9 386.3h.01M274.6 387.5h.01M274.2 387.8h.01M272.5 389.4h.01M284.0 402.2h.01M285.6 403.1h.01M285.4 400.5h.01M286.2 399.5h.01M285.8 399.8h.01M285.7 399.8h.01M287.5 397.5h.01M288.4 396.7h.01M289.2 397.9h.01M289.0 394.6h.01M289.0 395.6h.01M291.0 394.0h.01M291.3 396.0h.01M291.5 394.6h.01M290.4 394.3h.01M292.0 393.5h.01M293.3 390.9h.01M293.5 392.6h.01M291.8 389.9h.01M294.6 388.5h.01M295.7 388.1h.01M296.0 386.9h.01M295.0 389.3h.01M295.1 386.7h.01M297.0 386.4h.01M296.5 385.5h.01M297.9 387.4h.01M285.6 409.3h.01M284.1 409.9h.01M284.2 410.1h.01M286.0 410.6h.01M287.0 412.2h.01M286.3 414.2h.01M284.7 414.6h.01M286.3 413.7h.01M286.8 414.2h.01M287.3 416.2h.01M285.2 417.8h.01M289.0 404.0h.01M208.8 427.0h.01M209.8 427.6h.01M210.0 429.2h.01M209.4 432.5h.01M209.3 432.5h.01M208.4 431.4h.01M207.5 431.9h.01M210.1 433.5h.01M210.5 435.8h.01M210.1 434.4h.01M212.5 434.5h.01M210.4 435.5h.01M211.3 436.3h.01M212.3 437.9h.01M214.1 437.5h.01M214.8 439.1h.01M213.8 441.4h.01M214.2 438.9h.01M213.0 441.0h.01M214.8 442.0h.01M212.5 441.0h.01M210.6 442.7h.01M211.6 442.4h.01M211.2 443.2h.01M211.4 444.7h.01M209.2 456.9h.01M208.4 456.6h.01M209.4 456.6h.01M208.1 459.2h.01M207.8 459.4h.01M210.6 459.0h.01M208.0 461.3h.01M209.0 461.5h.01M210.4 461.0h.01M209.1 462.4h.01M208.6 465.2h.01M211.3 465.7h.01M209.3 475.8h.01M210.8 475.9h.01M210.7 476.9h.01M209.4 477.1h.01M231.4 425.4h.01M230.5 432.5h.01M231.0 435.8h.01M232.3 437.1h.01M232.4 436.3h.01M232.1 437.8h.01M232.9 439.1h.01M231.2 439.5h.01M233.7 439.1h.01M233.7 439.4h.01M232.0 441.2h.01M233.8 444.4h.01M244.4 430.0h.01M256.8 426.4h.01M256.5 427.2h.01M253.7 429.7h.01M254.3 429.8h.01M253.7 431.4h.01M252.3 431.7h.01M252.3 432.4h.01M250.8 432.7h.01M251.2 431.4h.01M249.8 433.2h.01M249.1 435.0h.01M249.0 433.1h.01M248.6 436.8h.01M249.1 435.1h.01M247.8 435.7h.01M249.6 438.4h.01M249.6 438.8h.01M247.4 439.3h.01M248.2 441.0h.01M249.4 442.3h.01M246.8 443.2h.01M249.3 444.4h.01M246.7 442.1h.01M246.0 442.1h.01M247.5 445.2h.01M246.0 445.8h.01M245.2 444.7h.01M242.7 444.7h.01M244.8 445.1h.01M242.9 446.8h.01M241.5 447.2h.01M241.8 449.7h.01M241.6 449.4h.01M243.5 450.0h.01M242.6 451.1h.01M239.5 451.2h.01M240.3 453.1h.01M239.5 453.7h.01M219.1 445.1h.01M220.8 445.5h.01M221.2 446.5h.01M219.2 447.4h.01M222.2 450.7h.01M220.4 450.0h.01M222.0 450.9h.01M222.0 450.0h.01M223.5 451.1h.01M224.2 451.4h.01M225.3 449.1h.01M227.6 450.0h.01M226.8 450.4h.01M226.7 450.9h.01M229.6 451.3h.01M230.4 450.3h.01M230.7 450.9h.01M233.2 450.3h.01M234.2 450.5h.01M232.1 451.2h.01M233.6 452.7h.01M231.2 454.7h.01M230.0 454.0h.01M230.2 455.7h.01M230.2 456.0h.01M228.2 455.7h.01M226.9 458.1h.01M228.5 457.8h.01M225.9 456.8h.01M226.9 457.3h.01M223.8 456.9h.01M225.2 456.2h.01M223.0 456.4h.01M225.4 458.7h.01M224.3 457.0h.01M225.3 458.2h.01M226.9 458.2h.01M227.0 458.9h.01M229.8 461.2h.01M227.7 462.5h.01M221.1 465.6h.01M224.7 467.5h.01M224.6 467.0h.01M223.6 468.2h.01M224.0 467.5h.01M225.6 467.5h.01M225.7 469.9h.01M227.6 468.7h.01M228.4 468.2h.01M227.9 468.3h.01M228.7 468.8h.01M229.9 468.8h.01M228.4 470.8h.01M227.5 470.1h.01M228.1 473.2h.01M227.9 473.6h.01M228.1 473.6h.01M227.1 473.9h.01M225.6 475.4h.01M224.5 475.7h.01M226.3 477.7h.01M225.4 477.2h.01M238.8 459.9h.01M239.1 460.7h.01M239.1 463.4h.01M237.2 463.5h.01M238.9 463.6h.01M238.0 465.5h.01M236.3 465.1h.01M236.4 466.9h.01M238.7 467.1h.01M235.7 468.2h.01M237.1 468.7h.01M236.8 469.4h.01M237.6 470.1h.01M236.0 472.4h.01M235.1 472.6h.01M234.0 462.0h.01M281.7 335.8h.01M280.9 337.6h.01M281.8 335.6h.01M281.7 337.7h.01M281.0 338.7h.01M282.5 340.6h.01M282.4 340.2h.01M282.1 342.8h.01M284.4 342.1h.01M281.9 344.0h.01M282.3 343.1h.01M281.3 345.9h.01M283.3 346.4h.01M282.1 347.2h.01M281.1 349.5h.01M282.0 354.0h.01M280.7 364.3h.01M281.7 365.7h.01M280.9 365.5h.01M281.1 366.2h.01M281.7 367.7h.01M281.8 368.5h.01M280.7 369.5h.01M280.8 370.3h.01M279.9 372.5h.01M299.5 374.4h.01M300.6 375.5h.01M301.8 376.3h.01M303.4 376.2h.01M304.9 377.8h.01M303.6 369.0h.01M306.9 368.1h.01M305.0 367.5h.01M307.2 364.0h.01M305.8 366.2h.01M308.5 363.2h.01M306.7 362.9h.01M307.4 364.0h.01M308.1 361.2h.01M310.2 362.4h.01M308.1 361.8h.01M309.8 360.6h.01M310.3 360.1h.01M310.9 359.1h.01M309.0 358.6h.01M310.3 357.8h.01M310.2 357.2h.01M310.8 354.2h.01M309.9 352.8h.01M311.0 351.6h.01M310.0 371.0h.01M311.9 328.9h.01M312.1 331.0h.01M312.5 333.2h.01M310.9 334.1h.01M312.6 334.2h.01M313.4 336.1h.01M312.6 335.7h.01M314.5 334.6h.01M313.2 337.4h.01M311.0 338.4h.01M312.8 340.4h.01M311.5 341.5h.01M317.0 300.0h.01M318.4 299.5h.01M318.0 302.4h.01M317.0 304.2h.01M317.2 303.9h.01M317.9 305.9h.01M317.1 305.8h.01M317.8 306.2h.01M318.8 306.3h.01M318.6 307.7h.01M317.4 308.3h.01M317.2 311.5h.01M317.5 311.9h.01M316.5 310.4h.01M316.9 312.3h.01M318.4 313.9h.01M317.0 314.7h.01M320.2 315.1h.01M317.6 314.4h.01M316.9 314.8h.01M319.3 317.0h.01M318.0 318.4h.01M318.3 318.7h.01M316.9 319.6h.01M316.6 320.3h.01M321.6 323.1h.01M322.5 323.6h.01M323.8 322.2h.01M323.0 321.8h.01M325.9 324.3h.01M325.5 322.6h.01M326.8 323.2h.01M326.7 320.7h.01M326.6 320.5h.01M327.4 319.8h.01M328.5 321.4h.01M327.4 319.7h.01M328.2 317.8h.01M331.5 318.7h.01M332.7 317.8h.01M330.6 317.1h.01M333.3 318.4h.01M334.5 316.9h.01M333.5 315.0h.01M335.0 314.6h.01M334.1 313.2h.01M334.4 314.6h.01M328.0 311.6h.01M337.4 308.0h.01M321.8 335.5h.01M322.7 334.8h.01M323.8 331.7h.01M326.7 332.0h.01M327.7 331.4h.01M326.6 332.9h.01M328.7 333.1h.01M329.6 330.2h.01M330.1 331.7h.01M330.4 331.9h.01M330.5 331.5h.01M332.9 327.9h.01M331.4 329.5h.01M334.0 327.7h.01M332.5 330.7h.01M332.2 332.2h.01M333.4 330.6h.01M333.2 333.2h.01M329.6 340.4h.01M322.8 328.6h.01M322.9 328.6h.01M324.6 327.7h.01M326.4 326.5h.01M326.6 327.3h.01M329.4 326.9h.01M328.2 325.3h.01M327.4 326.9h.01M330.3 325.8h.01M329.9 324.5h.01M332.7 324.7h.01M332.3 322.4h.01M340.4 281.6h.01M340.1 281.9h.01M340.7 283.5h.01M341.3 282.5h.01M338.6 283.4h.01M339.9 285.3h.01M341.0 287.2h.01M338.5 287.1h.01M341.8 287.8h.01M341.8 286.5h.01M343.5 288.8h.01M343.8 289.7h.01M343.5 287.7h.01M344.2 290.0h.01M342.5 290.6h.01M344.4 289.8h.01M342.8 292.1h.01M341.9 291.4h.01M340.7 294.0h.01M341.9 293.9h.01M339.7 295.0h.01M342.7 293.7h.01M342.9 296.5h.01M344.6 295.9h.01M344.1 296.7h.01M344.0 296.0h.01M344.0 297.6h.01M343.9 298.2h.01M343.3 299.1h.01M344.9 323.5h.01M348.3 325.3h.01M346.1 326.8h.01M348.9 325.9h.01M349.0 327.2h.01M349.4 326.8h.01M348.5 330.6h.01M351.2 329.0h.01M349.4 328.8h.01M349.3 330.0h.01M349.0 331.7h.01M347.8 332.9h.01M345.2 330.5h.01M345.0 331.0h.01M345.2 331.4h.01M347.2 334.9h.01M347.4 335.9h.01M349.3 333.9h.01M348.8 335.8h.01M347.8 338.5h.01M352.2 344.2h.01M354.1 346.3h.01M354.7 345.3h.01M354.6 345.3h.01M356.9 348.8h.01M355.1 346.5h.01M355.2 347.5h.01M357.1 350.3h.01M356.7 348.6h.01M356.4 351.7h.01M355.8 353.6h.01M353.7 351.9h.01M355.8 355.4h.01M355.6 353.4h.01M355.9 355.6h.01M354.9 355.0h.01M356.0 355.2h.01M357.3 356.1h.01M357.2 356.9h.01M358.6 356.4h.01M359.3 356.2h.01M357.7 357.8h.01M358.9 357.0h.01M361.6 356.0h.01M359.8 353.8h.01M359.7 355.4h.01M362.3 355.4h.01M361.2 355.5h.01M362.6 356.9h.01M362.2 356.9h.01M361.1 357.6h.01M362.7 359.2h.01M360.4 361.0h.01M360.3 360.4h.01M359.4 360.8h.01M361.1 361.8h.01M358.4 363.1h.01M358.4 365.3h.01M363.8 375.5h.01M364.6 375.8h.01M367.5 374.1h.01M367.9 374.8h.01M368.2 375.0h.01M368.6 377.6h.01M371.4 376.8h.01M369.3 374.1h.01M372.7 372.8h.01M372.9 372.9h.01M374.5 371.5h.01M374.0 372.5h.01M372.0 372.4h.01M374.5 375.1h.01M372.6 375.8h.01M375.1 376.1h.01M374.2 376.8h.01M380.3 375.6h.01M381.7 375.3h.01M380.6 376.1h.01M382.0 378.0h.01M381.5 378.4h.01M471.6 360.5h.01M472.3 361.2h.01M471.1 361.0h.01M472.5 362.8h.01M472.7 363.0h.01M473.1 364.6h.01M479.6 341.0h.01M479.6 350.0h.01M479.6 360.0h.01M473.8 375.8h.01M473.8 374.5h.01M475.5 376.1h.01M476.2 376.3h.01M475.5 378.1h.01M476.7 377.3h.01M305.6 381.3h.01M303.7 381.7h.01M304.3 382.3h.01M302.5 383.6h.01M304.0 384.7h.01M301.7 384.8h.01M301.1 385.6h.01M299.3 386.6h.01M301.5 386.0h.01M300.0 386.1h.01M299.5 385.1h.01M300.2 386.4h.01M297.0 386.7h.01M296.5 389.7h.01M295.2 388.0h.01M296.6 389.0h.01M294.5 390.3h.01M295.5 390.8h.01M295.2 390.2h.01M295.0 392.8h.01M291.7 391.7h.01M292.4 393.6h.01M291.0 393.1h.01M290.7 393.8h.01M291.3 396.2h.01M289.4 396.1h.01M290.8 395.6h.01M290.5 398.9h.01M288.6 398.1h.01M289.6 399.2h.01M287.7 401.4h.01M288.9 399.5h.01M286.8 400.5h.01M287.0 403.5h.01M287.8 404.3h.01M287.4 405.1h.01M284.6 405.1h.01M287.5 406.4h.01M285.0 405.8h.01M286.0 406.6h.01M285.5 406.6h.01M285.0 409.0h.01M283.5 408.8h.01M286.5 410.9h.01M286.4 411.4h.01M286.0 413.2h.01M286.2 411.5h.01M285.5 413.3h.01M285.6 414.3h.01M285.1 417.4h.01M284.0 402.0h.01M368.3 382.5h.01M368.2 383.9h.01M369.4 384.5h.01M368.2 386.3h.01M368.0 387.2h.01M370.0 388.0h.01M375.3 381.9h.01M377.1 381.0h.01M376.8 381.2h.01M378.3 382.2h.01M379.3 381.8h.01M379.7 383.0h.01M383.1 383.4h.01M382.2 383.5h.01M380.6 384.7h.01M381.1 385.2h.01M381.2 385.9h.01M379.8 386.2h.01M379.1 388.0h.01M379.6 388.3h.01M379.1 388.2h.01M382.5 388.5h.01M382.2 390.0h.01M382.0 392.2h.01M382.7 392.2h.01M382.9 390.6h.01M392.4 388.4h.01M376.2 393.8h.01M373.8 394.6h.01M375.2 396.8h.01M374.3 396.1h.01M377.3 398.8h.01M374.9 398.5h.01M375.5 399.6h.01M376.5 401.1h.01M377.2 401.1h.01M377.0 402.8h.01M377.2 402.9h.01M377.3 404.7h.01M385.3 392.8h.01M385.8 393.1h.01M386.0 395.7h.01M385.7 397.6h.01M386.5 396.6h.01M387.8 398.8h.01M387.8 397.9h.01M387.8 398.9h.01M388.7 398.3h.01M388.5 399.8h.01M389.2 399.6h.01M391.3 401.9h.01M391.2 401.2h.01M391.0 401.4h.01M390.9 402.2h.01M393.3 400.3h.01M395.3 400.8h.01M396.1 402.1h.01M396.5 400.1h.01M395.0 403.3h.01M393.8 401.6h.01M395.8 404.0h.01M397.1 405.9h.01M396.1 407.6h.01M396.1 406.1h.01M397.0 406.6h.01M396.3 408.3h.01M396.7 410.4h.01M398.2 410.1h.01M396.7 410.6h.01M397.7 411.2h.01M398.4 413.2h.01M399.9 413.0h.01M398.4 414.4h.01M400.4 414.5h.01M399.1 417.0h.01M382.9 405.4h.01M385.9 408.0h.01M384.8 406.8h.01M386.5 409.6h.01M386.6 411.6h.01M387.2 410.7h.01M384.9 410.3h.01M387.0 411.5h.01M387.0 411.0h.01M389.4 412.8h.01M389.5 414.6h.01M390.4 411.5h.01M389.9 414.9h.01M389.8 415.6h.01M389.0 415.4h.01M391.9 417.3h.01M391.5 417.0h.01M399.4 425.0h.01M404.0 428.0h.01M405.0 434.2h.01M404.5 435.5h.01M405.5 437.6h.01M405.8 436.7h.01M404.6 436.9h.01M406.8 437.7h.01M404.7 437.9h.01M406.3 441.0h.01M406.8 442.0h.01M405.2 440.4h.01M407.7 442.4h.01M407.7 443.5h.01M405.9 443.3h.01M404.7 445.7h.01M405.3 444.3h.01M403.8 444.8h.01M401.6 446.8h.01M402.3 447.5h.01M401.8 446.4h.01M400.8 445.5h.01M402.6 449.1h.01M400.2 450.3h.01M401.4 449.4h.01M400.3 452.5h.01M400.0 452.4h.01M400.2 450.4h.01M402.7 449.6h.01M402.4 451.5h.01M404.0 450.9h.01M408.0 448.0h.01M407.2 454.0h.01M407.5 455.0h.01M409.5 456.3h.01M408.2 456.8h.01M408.1 458.6h.01M407.7 458.6h.01M406.8 461.0h.01M407.7 460.2h.01M407.3 461.3h.01M407.7 461.5h.01M409.2 463.5h.01M407.7 465.7h.01M407.7 465.3h.01M410.1 464.8h.01M408.6 468.1h.01M409.6 466.9h.01M407.9 469.7h.01M407.8 471.5h.01M407.1 472.4h.01M408.0 470.1h.01M408.6 470.6h.01M410.2 471.7h.01M411.5 473.5h.01M410.6 473.2h.01M411.3 473.1h.01M412.0 473.8h.01M410.6 476.1h.01M409.7 477.9h.01M409.8 478.5h.01M410.2 478.4h.01M409.6 477.7h.01M409.2 481.1h.01M409.8 481.5h.01M409.3 482.2h.01M410.4 483.0h.01M410.4 482.6h.01M410.6 491.4h.01M410.2 493.5h.01M410.5 493.8h.01M411.9 495.6h.01M400.6 463.2h.01M398.3 462.3h.01M398.1 464.6h.01M400.3 464.5h.01M399.6 466.5h.01M400.6 466.2h.01M401.1 466.5h.01M400.4 467.0h.01M398.8 470.3h.01M400.7 470.7h.01M414.0 473.0h.01M414.0 474.3h.01M414.1 475.7h.01M413.2 476.6h.01M414.3 477.3h.01M417.0 467.0h.01M420.1 448.2h.01M419.5 448.2h.01M418.4 450.6h.01M417.9 449.4h.01M419.3 452.9h.01M417.3 451.5h.01M419.1 453.3h.01M416.3 453.2h.01M416.3 455.9h.01M416.3 457.3h.01M417.8 455.7h.01M417.6 456.7h.01M418.0 459.1h.01M416.8 457.7h.01M419.2 459.8h.01M419.4 461.6h.01M428.9 400.7h.01M428.7 400.9h.01M427.4 402.4h.01M428.2 403.0h.01M429.3 403.2h.01M434.8 406.5h.01M434.9 410.0h.01M433.7 410.1h.01M436.3 411.4h.01M435.1 411.2h.01M433.6 411.5h.01M433.7 411.2h.01M432.4 411.2h.01M432.7 413.1h.01M430.2 412.0h.01M430.0 412.8h.01M431.4 412.5h.01M429.1 415.2h.01M428.4 415.2h.01M428.7 417.0h.01M429.2 417.8h.01M427.9 417.5h.01M430.3 417.1h.01M431.9 418.5h.01M430.8 416.9h.01M432.6 416.9h.01M432.6 417.3h.01M433.0 418.6h.01M434.5 417.4h.01M434.8 419.2h.01M435.6 418.9h.01M423.0 421.4h.01M426.3 424.8h.01M423.7 425.7h.01M426.9 426.2h.01M424.4 427.0h.01M425.8 427.0h.01M426.1 426.4h.01M428.1 429.2h.01M427.9 430.9h.01M428.7 429.5h.01M428.2 429.8h.01M427.5 431.9h.01M430.7 429.5h.01M429.2 429.8h.01M431.9 430.0h.01M430.3 428.7h.01M433.1 427.8h.01M431.4 426.0h.01M433.7 425.8h.01M432.9 425.8h.01M433.6 426.1h.01M433.8 422.9h.01M435.5 424.1h.01M437.0 423.7h.01M437.3 424.4h.01M436.7 423.5h.01M436.4 423.4h.01M438.5 423.2h.01M439.6 423.9h.01M438.8 426.5h.01M437.4 424.5h.01M438.3 426.0h.01M439.0 426.4h.01M439.1 430.1h.01M426.0 438.0h.01M438.0 438.0h.01M440.9 448.8h.01M440.3 449.5h.01M442.0 448.7h.01M442.5 448.8h.01M443.5 450.0h.01M445.0 447.2h.01M443.8 447.3h.01M445.5 446.3h.01M445.0 444.7h.01M445.4 445.9h.01M448.2 446.6h.01M448.5 446.2h.01M449.5 444.4h.01M449.7 441.9h.01M449.9 443.0h.01M449.4 442.2h.01M451.4 441.9h.01M450.9 440.4h.01M450.3 441.2h.01M449.7 438.0h.01M452.2 437.8h.01M450.7 437.5h.01M451.6 437.3h.01M452.1 436.1h.01M453.0 434.7h.01M452.0 433.0h.01M454.8 433.2h.01M452.8 433.2h.01M453.2 430.7h.01M454.8 430.5h.01M455.3 430.8h.01M455.1 430.2h.01M455.4 429.4h.01M457.6 427.3h.01M457.7 426.6h.01M457.8 429.2h.01M458.8 427.9h.01M460.0 425.2h.01M461.4 426.3h.01M459.1 425.9h.01M460.7 422.9h.01M462.5 424.2h.01M462.9 422.3h.01M463.9 421.6h.01M463.2 422.1h.01M463.4 422.3h.01M464.1 421.4h.01M466.5 421.2h.01M467.8 421.2h.01M468.6 420.4h.01M469.5 420.8h.01M467.9 419.8h.01M468.5 419.8h.01M470.3 419.3h.01M469.3 417.1h.01M472.0 418.2h.01M472.7 414.5h.01M439.4 457.0h.01M439.4 463.0h.01M444.3 454.7h.01M444.9 456.2h.01M444.3 455.9h.01M446.8 453.0h.01M446.0 452.8h.01M448.1 453.3h.01M446.3 450.6h.01M446.8 452.3h.01M447.5 450.7h.01M448.3 450.3h.01M449.1 447.7h.01M451.2 448.1h.01M450.6 449.0h.01M452.1 445.8h.01M450.8 445.5h.01M452.0 447.2h.01M453.6 443.8h.01M452.3 445.7h.01M454.6 443.7h.01M453.9 442.9h.01M455.7 442.9h.01M456.4 442.8h.01M454.4 441.1h.01M455.5 442.1h.01M457.3 438.5h.01M455.9 439.6h.01M457.6 439.6h.01M458.0 438.2h.01M457.4 438.3h.01M459.1 435.8h.01M460.2 438.2h.01M459.5 434.9h.01M456.4 449.0h.01M464.4 435.0h.01M466.5 408.3h.01M465.8 409.8h.01M466.2 410.7h.01M467.6 412.7h.01M469.6 410.5h.01M468.2 412.9h.01M470.2 412.9h.01M470.4 412.4h.01M470.6 411.3h.01M472.9 413.2h.01M466.0 417.0h.01M474.4 402.6h.01M472.8 401.8h.01M474.6 400.0h.01M474.6 398.5h.01M474.8 397.7h.01M473.6 396.5h.01M474.4 398.6h.01M474.8 395.6h.01M473.8 394.2h.01M474.0 392.8h.01M472.8 394.2h.01M474.0 391.8h.01M474.2 390.4h.01M472.9 389.6h.01M473.9 389.6h.01M475.7 389.7h.01M476.9 388.2h.01M477.3 388.3h.01M478.0 394.0h.01M491.4 275.4h.01M490.7 284.0h.01M493.2 287.1h.01M493.3 286.9h.01M494.5 287.7h.01M494.2 287.0h.01M496.9 286.3h.01M494.7 286.5h.01M494.2 288.3h.01M495.8 289.1h.01M494.7 290.0h.01M495.3 292.2h.01M494.6 290.5h.01M494.1 293.3h.01M492.8 291.0h.01M492.7 293.9h.01M490.3 292.0h.01M489.0 293.7h.01M491.2 294.0h.01M492.3 293.1h.01M491.3 295.2h.01M493.3 294.5h.01M494.3 294.7h.01M493.3 295.3h.01M494.1 296.4h.01M495.1 296.0h.01M495.1 295.5h.01M493.8 295.0h.01M494.4 297.1h.01M493.7 295.7h.01M491.7 298.1h.01M489.9 296.4h.01M488.5 296.9h.01M490.5 296.7h.01M491.3 298.4h.01M491.1 299.5h.01M491.8 300.3h.01M492.6 299.9h.01M493.8 300.2h.01M493.7 301.8h.01M494.1 301.5h.01M494.3 304.8h.01M493.5 303.7h.01M493.7 305.8h.01M491.5 303.2h.01M491.7 305.7h.01M491.8 305.2h.01M491.6 305.1h.01M489.4 313.1h.01M487.6 314.1h.01M488.1 316.1h.01M490.2 316.0h.01M491.4 316.6h.01M488.2 316.7h.01M489.4 319.7h.01M488.4 323.6h.01M480.4 341.4h.01M487.3 339.0h.01M488.1 340.4h.01M488.1 342.0h.01M484.8 346.5h.01M484.8 347.6h.01M482.6 349.8h.01M481.3 350.0h.01M480.6 350.5h.01M481.7 351.2h.01M481.3 351.0h.01M483.2 352.8h.01M485.7 352.7h.01M484.1 352.2h.01M484.2 352.8h.01M483.6 352.9h.01M484.8 355.1h.01M482.9 357.1h.01M482.1 356.6h.01M481.4 358.3h.01M483.2 357.3h.01M482.8 359.0h.01M482.1 358.2h.01M483.5 360.8h.01M483.2 360.8h.01M485.3 360.8h.01M485.3 362.2h.01M483.6 363.2h.01M483.6 363.9h.01M484.7 363.0h.01M484.2 366.6h.01M482.4 363.5h.01M482.3 367.3h.01M482.4 367.8h.01M483.4 368.0h.01M483.7 366.9h.01M471.8 359.5h.01M471.2 362.3h.01M472.3 363.2h.01M473.1 362.4h.01M471.6 365.0h.01M472.8 364.4h.01M472.4 374.1h.01M473.1 373.6h.01M472.7 376.3h.01M474.6 375.8h.01M475.0 374.4h.01M475.9 374.1h.01M477.0 374.7h.01M477.9 374.8h.01M479.0 372.8h.01M478.8 375.0h.01M480.8 375.5h.01M478.8 378.5h.01M481.2 378.7h.01M496.5 374.7h.01M496.7 375.4h.01M496.5 377.2h.01M497.5 378.2h.01M497.7 377.9h.01M532.4 363.4h.01M472.8 360.3h.01M472.5 361.1h.01M472.8 363.1h.01M473.2 363.5h.01M472.2 363.6h.01M472.2 366.0h.01M481.8 361.7h.01M482.3 362.0h.01M484.1 362.6h.01M483.7 365.4h.01M483.5 365.6h.01M484.2 365.6h.01M484.3 366.2h.01M473.5 375.9h.01M473.9 374.6h.01M473.3 376.4h.01M473.3 378.2h.01M472.4 380.5h.01M471.4 379.8h.01M474.8 378.4h.01M474.6 379.2h.01M474.2 377.4h.01M476.4 375.9h.01M477.0 375.3h.01M477.1 375.4h.01M478.2 373.8h.01M478.7 373.8h.01M478.1 373.4h.01M478.2 374.3h.01M479.1 374.7h.01M479.5 374.9h.01M478.7 374.9h.01M481.2 377.1h.01M480.1 378.1h.01M481.0 377.2h.01M479.0 380.0h.01M479.9 380.4h.01M481.0 382.3h.01M481.2 380.5h.01M473.6 391.1h.01M475.9 389.3h.01M474.6 390.2h.01M475.2 391.0h.01M478.3 392.1h.01M478.0 391.2h.01M478.7 394.6h.01M479.6 392.8h.01M478.3 394.8h.01M478.6 393.5h.01M477.8 395.0h.01M476.7 395.4h.01M475.6 396.5h.01M475.6 395.5h.01M474.6 398.2h.01M473.8 398.0h.01M475.5 399.3h.01M473.8 400.2h.01M475.1 400.7h.01M497.3 375.8h.01M496.4 375.8h.01M497.8 377.3h.01M497.0 377.0h.01M497.3 378.7h.01M496.5 386.5h.01M495.8 388.3h.01M496.7 388.7h.01M465.6 408.3h.01M468.1 407.6h.01M468.9 409.8h.01M467.7 410.2h.01M468.3 408.9h.01M470.4 410.5h.01M470.4 411.4h.01M472.3 412.8h.01M469.5 412.3h.01M470.1 412.5h.01M470.5 412.9h.01M468.5 415.0h.01M467.6 414.4h.01M467.0 416.0h.01M462.5 420.8h.01M462.5 418.8h.01M464.3 420.7h.01M465.4 421.7h.01M464.2 420.2h.01M464.9 422.4h.01M465.9 420.4h.01M468.8 422.2h.01M466.6 422.6h.01M469.4 421.2h.01M468.1 421.1h.01M470.0 420.0h.01M472.6 420.0h.01M472.2 417.9h.01M470.7 420.1h.01M469.9 422.6h.01M471.0 421.2h.01M471.4 422.2h.01M473.1 423.2h.01M471.2 423.3h.01M469.0 423.6h.01M470.8 425.8h.01M469.9 424.6h.01M467.0 424.6h.01M468.1 425.6h.01M466.9 426.2h.01M466.3 426.1h.01M466.0 425.8h.01M465.3 427.2h.01M462.6 426.4h.01M463.4 427.2h.01M462.7 427.4h.01M461.0 429.4h.01M460.3 429.7h.01M464.0 435.4h.01M498.6 409.4h.01M501.7 419.2h.01M500.5 421.0h.01M500.1 421.8h.01M498.8 421.9h.01M499.7 422.0h.01M499.8 423.1h.01M498.3 428.0h.01M499.6 430.2h.01M499.5 431.0h.01M499.3 432.6h.01M498.3 432.1h.01M500.1 431.9h.01M500.7 433.1h.01M498.5 433.7h.01M501.1 437.4h.01M500.3 437.5h.01M500.2 439.3h.01M501.6 436.9h.01M500.2 439.4h.01M500.7 440.7h.01M502.1 439.5h.01M503.7 440.6h.01M504.2 440.9h.01M504.4 450.0h.01M505.3 463.4h.01M504.6 463.9h.01M504.0 467.5h.01M502.2 465.5h.01M501.6 468.5h.01M501.1 468.1h.01M500.1 468.7h.01M501.5 469.4h.01M500.8 469.2h.01M500.7 470.0h.01M500.4 473.6h.01M514.4 470.1h.01M512.1 470.5h.01M513.4 472.0h.01M513.8 471.7h.01M512.2 475.2h.01M512.3 475.1h.01M510.7 473.8h.01M510.3 476.8h.01M511.1 475.1h.01M510.4 475.0h.01M508.3 478.5h.01M507.5 478.4h.01M507.8 476.1h.01M506.0 477.8h.01M504.9 479.3h.01M504.0 479.9h.01M532.4 413.0h.01M533.4 418.6h.01M534.4 419.7h.01M534.7 422.9h.01M535.1 422.9h.01M533.5 424.0h.01M533.7 424.5h.01M533.8 425.2h.01M534.5 425.6h.01M535.5 425.9h.01M533.9 429.4h.01M522.0 439.4h.01M528.0 440.0h.01M533.5 438.1h.01M535.9 436.4h.01M534.4 434.7h.01M537.5 434.3h.01M537.0 435.1h.01M535.8 434.9h.01M536.7 434.5h.01M538.6 433.4h.01M538.4 432.9h.01M539.3 431.4h.01M540.2 433.2h.01M541.0 433.2h.01M539.7 434.4h.01M541.5 434.9h.01M542.0 435.6h.01M541.1 436.8h.01M516.9 447.2h.01M517.5 447.9h.01M520.1 447.8h.01M522.2 447.4h.01M522.3 448.1h.01M522.3 449.9h.01M523.7 447.1h.01M523.2 448.3h.01M526.5 446.0h.01M526.4 447.6h.01M517.0 453.5h.01M518.0 454.4h.01M519.3 453.4h.01M520.4 455.2h.01M519.7 454.7h.01M519.2 456.7h.01M521.6 454.4h.01M521.5 453.8h.01M522.0 453.6h.01M523.5 455.5h.01M525.6 454.9h.01M524.9 453.7h.01M526.9 454.8h.01M527.8 453.7h.01M527.0 453.4h.01M529.1 453.9h.01M527.4 454.2h.01M529.0 452.9h.01M531.7 455.1h.01M531.8 453.8h.01M517.1 461.4h.01M518.3 461.3h.01M519.1 462.0h.01M519.3 461.3h.01M521.0 462.9h.01M521.2 461.4h.01M522.5 461.6h.01M523.4 459.8h.01M524.5 461.4h.01M523.2 461.1h.01M523.1 459.0h.01M524.5 460.0h.01M525.2 462.9h.01M526.4 463.1h.01M526.1 464.1h.01M527.9 464.6h.01M528.4 465.0h.01M527.7 462.2h.01M529.5 464.1h.01M529.5 462.8h.01M532.1 462.9h.01M523.9 468.0h.01M524.4 468.1h.01M526.7 469.8h.01M526.7 470.9h.01M526.6 471.4h.01M537.6 457.0h.01M541.5 445.1h.01M543.4 443.8h.01M542.7 444.3h.01M545.6 445.3h.01M546.5 447.0h.01M544.8 446.6h.01M545.5 447.5h.01M547.0 446.3h.01M550.5 447.1h.01M549.1 449.2h.01M550.4 449.3h.01M550.7 447.5h.01M553.5 447.0h.01M554.6 445.5h.01M555.1 444.9h.01M554.1 444.4h.01M553.8 446.8h.01M555.5 445.8h.01M555.6 443.7h.01M555.9 443.8h.01M559.2 443.0h.01M542.6 441.4h.01M545.3 440.7h.01M543.6 440.8h.01M545.8 442.1h.01M546.6 441.3h.01M548.4 440.6h.01M548.1 441.6h.01M550.3 440.8h.01M549.6 442.1h.01M549.6 441.5h.01M552.6 440.4h.01M552.8 440.8h.01M554.3 440.7h.01M554.8 438.8h.01M554.4 439.3h.01M557.4 442.0h.01M555.9 441.3h.01M548.2 450.5h.01M548.1 453.8h.01M549.3 453.3h.01M550.0 454.3h.01M549.7 455.7h.01M551.5 457.5h.01M551.0 457.6h.01M550.4 457.9h.01M552.3 456.4h.01M551.7 454.1h.01M553.4 455.6h.01M554.9 453.5h.01M552.8 454.1h.01M556.0 452.3h.01M556.4 451.7h.01M555.8 450.8h.01M556.6 451.2h.01M559.5 452.5h.01M557.0 450.4h.01M559.9 451.0h.01M558.4 452.8h.01M558.2 453.2h.01M559.7 454.6h.01M557.0 438.5h.01M556.1 439.1h.01M557.4 438.2h.01M558.6 437.4h.01M558.6 435.2h.01M564.8 396.9h.01M564.1 398.5h.01M564.6 398.3h.01M563.3 401.3h.01M563.8 400.3h.01M564.0 401.2h.01M564.5 400.5h.01M564.9 403.2h.01M563.7 405.4h.01M563.7 404.2h.01M563.3 406.2h.01M565.8 407.6h.01M564.7 408.0h.01M563.4 407.4h.01M564.7 410.5h.01M564.2 410.6h.01M564.3 410.7h.01M564.4 412.8h.01M562.5 411.7h.01M563.8 412.5h.01M561.6 415.2h.01M562.5 415.1h.01M562.7 417.3h.01M560.8 416.5h.01M563.6 421.7h.01M565.5 424.1h.01M566.5 424.2h.01M566.2 425.2h.01M566.3 427.1h.01M567.9 427.1h.01M565.9 427.5h.01M567.8 428.0h.01M568.3 430.3h.01M567.8 431.0h.01M567.4 437.0h.01M577.1 403.2h.01M575.5 403.7h.01M577.4 404.4h.01M576.1 403.6h.01M577.3 407.0h.01M576.3 406.1h.01M576.1 405.7h.01M578.1 409.4h.01M579.0 408.2h.01M579.1 408.1h.01M580.1 409.8h.01M577.9 411.6h.01M578.8 411.3h.01M578.6 411.8h.01M580.2 414.0h.01M578.5 415.0h.01M578.8 414.1h.01M580.4 415.5h.01M579.5 417.2h.01M579.1 418.9h.01M570.4 414.0h.01M574.4 419.7h.01M575.9 420.1h.01M574.4 421.6h.01M574.6 422.0h.01M575.6 422.0h.01M576.3 424.5h.01M574.4 438.0h.01M582.3 421.7h.01M582.9 422.8h.01M582.8 424.2h.01M586.1 424.5h.01M586.8 423.5h.01M587.7 423.1h.01M586.9 423.8h.01M586.9 425.6h.01M587.9 425.9h.01M587.0 426.0h.01M587.4 427.3h.01M587.0 429.8h.01M588.1 428.8h.01M586.0 430.2h.01M585.0 429.2h.01M585.2 431.1h.01M585.5 431.8h.01M585.4 432.3h.01M584.0 432.5h.01M581.1 431.6h.01M580.2 434.4h.01M581.7 434.4h.01M589.2 432.5h.01M589.9 433.7h.01M593.6 432.9h.01M591.5 432.7h.01M593.5 435.3h.01M595.0 433.9h.01M593.7 432.2h.01M594.9 433.9h.01M596.9 434.1h.01M599.3 432.9h.01M597.9 433.0h.01M597.6 430.1h.01M599.8 430.8h.01M599.5 429.4h.01M599.7 430.9h.01M602.7 430.4h.01M603.5 428.8h.01M603.7 428.9h.01M605.0 430.6h.01M603.8 428.2h.01M605.1 430.3h.01M605.6 428.4h.01M608.1 430.4h.01M607.9 427.5h.01M610.2 428.6h.01M608.6 427.4h.01M592.4 439.2h.01M593.0 438.3h.01M593.1 436.8h.01M596.3 437.1h.01M594.7 437.6h.01M595.8 436.2h.01M597.9 437.3h.01M598.4 437.7h.01M598.7 435.3h.01M600.4 435.0h.01M600.5 435.8h.01M602.0 436.5h.01M601.5 436.0h.01M603.8 435.2h.01M602.9 436.3h.01M604.3 433.6h.01M604.2 436.4h.01M605.1 434.3h.01M607.9 435.4h.01M608.4 435.0h.01M607.5 432.7h.01M600.0 442.0h.01M611.9 425.0h.01M609.6 421.8h.01M611.0 423.8h.01M611.7 422.2h.01M614.7 421.2h.01M615.3 419.2h.01M612.9 418.5h.01M615.8 418.2h.01M617.5 419.7h.01M615.0 420.0h.01M614.9 420.0h.01M614.7 421.9h.01M617.2 423.3h.01M614.4 424.1h.01M616.2 425.0h.01M616.0 424.4h.01M615.8 426.0h.01M613.6 424.6h.01M614.6 426.3h.01M613.7 426.4h.01M619.8 429.5h.01M620.3 433.0h.01M619.4 431.8h.01M620.2 433.1h.01M619.8 433.8h.01M621.5 435.1h.01M619.8 434.7h.01M621.2 438.1h.01M621.9 436.7h.01M620.6 438.4h.01M621.8 437.9h.01M621.6 441.5h.01M622.4 439.4h.01M620.4 440.8h.01M622.6 443.3h.01M623.1 453.9h.01M622.9 455.4h.01M623.9 457.3h.01M624.3 457.9h.01M625.1 459.1h.01M624.7 457.5h.01M624.6 460.1h.01M624.2 461.2h.01M623.8 462.4h.01M625.0 462.7h.01M624.8 462.4h.01M625.5 463.4h.01M624.7 463.8h.01M627.3 465.5h.01M627.0 466.8h.01M626.5 468.6h.01M626.0 467.3h.01M624.2 468.7h.01M626.5 468.1h.01M629.7 471.2h.01M628.3 471.6h.01M630.2 472.8h.01M630.7 472.5h.01M628.9 474.3h.01M630.0 474.5h.01M630.6 475.1h.01M632.5 473.9h.01M630.6 476.2h.01M630.1 477.9h.01M629.2 478.6h.01M629.6 479.5h.01M632.7 462.1h.01M634.1 465.1h.01M633.9 463.7h.01M636.9 466.8h.01M636.0 465.8h.01M637.6 466.6h.01M638.6 466.2h.01M637.8 464.0h.01M637.9 464.8h.01M639.3 462.8h.01M642.5 463.5h.01M641.3 463.5h.01M641.1 462.6h.01M640.0 459.6h.01M639.0 458.4h.01M639.8 457.9h.01M638.8 458.0h.01M637.0 472.4h.01M636.5 472.6h.01M637.3 471.1h.01M638.6 471.8h.01M640.4 471.9h.01M645.7 452.7h.01M647.4 454.0h.01M648.1 453.5h.01M649.1 454.6h.01M650.1 457.0h.01M649.5 455.3h.01M648.2 454.3h.01M651.8 453.4h.01M651.8 454.0h.01M652.5 452.0h.01M645.2 461.1h.01M648.1 462.2h.01M648.3 463.2h.01M648.4 462.5h.01M648.9 464.8h.01M657.2 471.0h.01M657.9 471.5h.01M657.7 472.6h.01M658.2 472.7h.01M659.1 473.1h.01M504.0 442.0h.01M504.4 450.0h.01M503.2 464.9h.01M502.8 464.6h.01M503.8 465.1h.01M501.5 466.1h.01M501.6 467.6h.01M502.5 467.9h.01M502.6 467.4h.01M501.3 470.7h.01M499.4 468.9h.01M499.4 470.0h.01M498.9 472.7h.01M504.0 471.0h.01M511.7 468.8h.01M512.7 470.0h.01M511.7 471.8h.01M511.2 471.6h.01M511.8 473.9h.01M513.4 475.2h.01M510.6 474.1h.01M512.3 476.0h.01M512.2 478.0h.01M511.6 476.0h.01M511.4 478.1h.01M509.2 476.9h.01M510.8 478.1h.01M507.9 479.2h.01M510.2 480.9h.01M509.1 480.6h.01M507.8 482.4h.01M507.1 483.5h.01M507.1 482.6h.01M508.5 484.6h.01M505.5 483.9h.01M506.5 486.4h.01M504.0 487.1h.01M505.8 488.1h.01M504.1 488.0h.01M504.8 489.5h.01M502.9 491.0h.01M504.9 491.8h.01M504.1 491.6h.01M504.3 491.0h.01M502.1 493.3h.01M504.3 492.7h.01M502.1 493.5h.01M502.8 494.8h.01M502.0 497.8h.01M503.3 499.4h.01M513.7 477.6h.01M512.3 479.4h.01M512.8 478.9h.01M513.5 481.4h.01M513.3 482.6h.01M513.6 481.1h.01M514.1 482.0h.01M514.6 482.9h.01M511.6 485.2h.01M511.4 484.2h.01M511.0 485.8h.01M509.5 485.6h.01M509.4 487.8h.01M508.4 487.8h.01M508.7 488.1h.01M509.2 489.7h.01M507.8 488.2h.01M507.6 491.5h.01M507.5 489.8h.01M508.5 492.3h.01M509.4 491.6h.01M507.1 492.9h.01M502.0 481.0h.01M501.0 488.0h.01M509.2 502.9h.01M507.9 504.4h.01M507.7 504.8h.01M507.5 504.0h.01M506.6 504.8h.01M500.4 510.9h.01M500.5 509.9h.01M500.9 511.5h.01M502.4 513.8h.01M502.4 518.4h.01M524.8 468.1h.01M526.3 469.7h.01M526.3 470.0h.01M525.7 470.4h.01M527.3 472.2h.01M630.0 476.3h.01M630.7 475.0h.01M628.1 478.3h.01M630.0 477.0h.01M630.6 478.2h.01M629.2 478.6h.01M630.1 480.6h.01M628.6 481.8h.01M630.4 481.9h.01M630.6 484.0h.01M628.4 483.9h.01M630.6 484.7h.01M630.7 484.0h.01M632.0 486.9h.01M629.9 486.8h.01M632.5 487.1h.01M625.8 465.0h.01M626.7 464.4h.01M626.1 465.7h.01M625.8 467.6h.01M624.4 467.4h.01M624.4 468.5h.01M632.0 478.0h.01M651.5 451.2h.01M652.5 453.1h.01M651.2 454.5h.01M653.8 455.4h.01M651.7 456.7h.01M651.8 456.0h.01M651.9 455.5h.01M652.1 456.9h.01M650.6 460.5h.01M651.4 461.1h.01M650.5 461.4h.01M645.7 457.5h.01M643.6 457.9h.01M643.6 457.2h.01M644.8 459.3h.01M644.5 461.2h.01M643.3 460.0h.01M641.4 461.1h.01M643.3 461.3h.01M640.8 461.4h.01M640.8 464.6h.01M639.8 464.1h.01M640.2 466.7h.01M642.6 464.5h.01M639.6 468.4h.01M642.1 466.9h.01M639.9 469.1h.01M639.6 469.7h.01M639.9 470.2h.01M650.6 464.7h.01M651.7 465.4h.01M653.9 468.1h.01M653.5 469.2h.01M655.7 468.5h.01M655.0 468.0h.01M656.8 470.2h.01M654.4 469.9h.01M656.8 471.6h.01M657.3 472.1h.01M658.0 475.0h.01M655.7 474.3h.01M656.6 475.5h.01M659.2 476.5h.01M657.9 475.1h.01M659.9 477.4h.01M658.8 477.0h.01M660.3 476.7h.01M660.9 478.2h.01M660.2 479.8h.01M661.6 481.7h.01M660.5 482.7h.01M661.4 487.5h.01M662.7 489.4h.01M663.1 490.9h.01M662.6 490.6h.01M664.0 491.5h.01M664.9 479.1h.01M667.9 480.5h.01M668.7 480.5h.01M669.9 477.9h.01M669.4 478.7h.01M668.6 478.3h.01M669.3 475.8h.01M671.2 475.5h.01M673.1 477.1h.01M672.2 474.2h.01M671.6 474.5h.01M673.5 473.3h.01M674.7 473.1h.01M674.9 471.7h.01M672.1 471.8h.01M672.9 470.5h.01M673.0 469.6h.01M671.4 469.6h.01M672.2 469.7h.01M670.6 467.8h.01M672.4 469.4h.01M672.0 466.1h.01M672.2 467.1h.01M672.3 464.5h.01M675.2 466.6h.01M673.1 464.6h.01M675.4 463.4h.01M675.6 455.8h.01M678.1 455.8h.01M676.2 456.7h.01M676.5 459.5h.01M676.6 458.3h.01M678.9 457.8h.01M677.0 458.6h.01M677.4 461.1h.01M679.8 460.9h.01M678.0 463.8h.01M680.8 443.5h.01M680.8 443.4h.01M684.5 443.3h.01M683.2 445.5h.01M686.3 446.3h.01M684.9 446.5h.01M686.3 444.1h.01M686.9 445.2h.01M688.7 443.1h.01M688.0 445.5h.01M680.7 450.0h.01M682.5 448.7h.01M683.2 449.9h.01M686.6 449.4h.01M687.1 450.4h.01M685.0 451.8h.01M686.0 449.3h.01M686.7 450.5h.01M688.7 449.0h.01M686.4 448.8h.01M689.3 467.3h.01M691.4 465.9h.01M692.1 468.0h.01M691.3 467.1h.01M692.6 467.5h.01M692.6 466.8h.01M692.4 470.3h.01M693.2 470.4h.01M695.0 471.8h.01M693.2 473.3h.01M692.0 460.6h.01M692.7 460.1h.01M694.0 458.7h.01M694.5 459.4h.01M696.1 458.8h.01M695.1 459.5h.01M697.0 460.0h.01M698.1 462.1h.01M699.2 460.3h.01M700.4 462.8h.01M699.6 462.5h.01M697.8 464.2h.01M699.7 463.9h.01M699.2 465.9h.01M700.9 467.2h.01M699.1 457.5h.01M700.2 456.2h.01M701.4 455.5h.01M703.9 455.6h.01M702.6 454.6h.01M704.8 455.0h.01M704.9 455.2h.01M707.0 456.5h.01M706.4 454.9h.01M709.3 453.9h.01M709.3 454.7h.01M708.1 455.7h.01M709.7 453.7h.01M710.5 456.6h.01M711.1 455.9h.01M710.7 457.2h.01M711.3 456.1h.01M710.2 457.6h.01M711.9 459.6h.01M709.0 461.3h.01M708.5 461.3h.01M709.8 461.7h.01M709.5 460.7h.01M709.6 464.0h.01M710.2 463.5h.01M708.1 465.8h.01M715.0 435.1h.01M715.7 438.6h.01M714.8 437.6h.01M716.2 440.4h.01M715.0 439.4h.01M715.5 440.7h.01M714.5 441.1h.01M715.0 442.5h.01M713.4 444.5h.01M715.6 444.2h.01M714.9 443.0h.01M716.3 444.7h.01M716.8 446.2h.01M716.6 446.9h.01M717.1 444.5h.01M718.0 447.3h.01M719.5 448.5h.01M718.4 449.4h.01M718.8 447.9h.01M719.2 451.0h.01M718.8 451.3h.01M718.2 450.3h.01M719.5 451.5h.01M720.4 450.7h.01M719.7 452.0h.01M722.7 453.8h.01M721.2 452.2h.01M722.5 453.0h.01M723.1 456.3h.01M722.2 456.3h.01M724.3 457.8h.01M724.7 458.7h.01M725.3 455.1h.01M728.0 451.9h.01M728.8 452.5h.01M726.7 450.6h.01M729.6 451.9h.01M728.2 450.5h.01M730.4 451.6h.01M729.5 450.9h.01M729.5 448.2h.01M729.5 448.0h.01M731.2 446.8h.01M730.1 445.7h.01M730.1 444.7h.01M731.1 444.9h.01M731.0 443.9h.01M731.8 445.5h.01M732.5 444.4h.01M732.9 441.0h.01M733.8 439.9h.01M732.9 438.6h.01M734.6 441.5h.01M734.7 439.0h.01M735.8 438.5h.01M737.6 438.2h.01M736.9 439.2h.01M738.2 436.4h.01M739.7 437.9h.01M738.7 436.8h.01M741.1 435.3h.01M740.2 434.2h.01M741.2 434.5h.01M741.8 435.4h.01M740.1 432.6h.01M742.5 432.9h.01M741.9 431.6h.01M741.3 431.4h.01M742.2 428.7h.01M743.4 403.8h.01M745.8 407.0h.01M743.1 406.4h.01M744.7 408.0h.01M744.4 410.3h.01M744.5 410.1h.01M746.4 410.4h.01M744.8 410.5h.01M744.3 412.3h.01M745.4 412.2h.01M743.9 413.6h.01M743.7 416.3h.01M744.1 415.3h.01M743.5 417.0h.01M743.9 416.8h.01M744.5 415.4h.01M745.6 417.6h.01M746.9 415.9h.01M747.6 416.2h.01M749.7 417.7h.01M751.3 418.9h.01M751.2 419.4h.01M750.7 419.9h.01M752.8 418.0h.01M753.8 420.1h.01M752.9 418.7h.01M754.7 421.8h.01M754.1 423.5h.01M752.5 421.6h.01M754.8 432.5h.01M756.7 435.4h.01M754.8 434.9h.01M755.0 437.3h.01M756.6 439.5h.01M755.6 439.5h.01M755.9 438.7h.01M755.5 439.1h.01M758.0 442.6h.01M757.3 441.0h.01M763.3 403.2h.01M763.7 405.5h.01M763.0 406.1h.01M764.4 406.0h.01M763.9 408.6h.01M764.2 408.9h.01M764.2 416.3h.01M763.5 415.9h.01M766.4 417.6h.01M767.3 416.8h.01M765.9 415.8h.01M767.6 417.6h.01M766.4 418.0h.01M768.2 417.5h.01M764.9 419.0h.01M765.5 419.0h.01M765.2 419.7h.01M764.0 421.0h.01M765.0 421.4h.01M763.1 419.9h.01M761.6 420.3h.01M763.3 421.9h.01M763.8 422.3h.01M765.3 422.2h.01M764.0 422.7h.01M764.7 422.5h.01M765.2 423.6h.01M767.1 422.0h.01M769.4 421.7h.01M769.4 423.8h.01M766.4 424.7h.01M767.2 426.0h.01M766.8 425.3h.01M767.4 425.0h.01M766.4 425.9h.01M764.3 426.8h.01M774.2 425.8h.01M773.9 426.2h.01M774.1 428.5h.01M772.3 429.0h.01M774.5 429.1h.01M774.5 430.3h.01M773.6 432.3h.01M775.2 433.6h.01M773.4 433.2h.01M774.4 434.8h.01M773.1 436.2h.01M772.7 437.4h.01M772.9 434.8h.01M774.8 435.4h.01M775.6 435.6h.01M777.6 437.6h.01M777.8 436.8h.01M777.4 437.6h.01M776.7 440.0h.01M776.5 439.9h.01M777.2 442.1h.01M780.3 440.5h.01M778.9 441.9h.01M779.9 443.7h.01M778.9 445.4h.01M778.6 443.8h.01M780.8 444.8h.01M779.0 447.0h.01M779.5 445.9h.01M781.6 447.9h.01M781.4 448.2h.01M782.1 449.1h.01M782.3 451.4h.01M782.5 451.9h.01M781.7 452.1h.01M782.6 452.8h.01M780.5 455.3h.01M783.0 455.6h.01M783.8 430.1h.01M783.5 431.2h.01M785.7 430.8h.01M783.7 429.2h.01M785.6 427.5h.01M784.9 425.8h.01M785.9 427.0h.01M786.1 426.0h.01M787.8 426.6h.01M788.7 424.1h.01M790.4 424.2h.01M791.5 425.5h.01M788.8 424.3h.01M792.5 423.1h.01M792.2 422.4h.01M791.5 421.6h.01M792.8 421.3h.01M783.3 437.1h.01M784.7 436.7h.01M784.2 436.5h.01M785.5 434.8h.01M786.8 434.4h.01M795.6 419.3h.01M796.4 420.3h.01M797.2 420.0h.01M797.6 416.7h.01M800.2 417.1h.01M800.0 416.8h.01M802.1 418.0h.01M802.6 418.4h.01M804.6 417.1h.01M804.7 414.4h.01M802.6 415.8h.01M806.5 415.9h.01M806.2 415.4h.01M806.7 418.8h.01M808.3 419.0h.01M806.4 417.0h.01M807.8 418.5h.01M808.3 418.2h.01M809.7 417.4h.01M811.2 415.0h.01M813.5 414.7h.01M812.6 413.6h.01M814.1 417.0h.01M812.8 416.8h.01M814.3 415.4h.01M815.6 417.5h.01M817.5 418.6h.01M818.6 417.4h.01M818.5 415.9h.01M819.7 417.2h.01M819.5 418.3h.01M819.2 415.9h.01M819.9 416.1h.01M822.3 418.5h.01M821.9 417.8h.01M824.2 418.2h.01M823.7 418.1h.01M823.2 417.3h.01M825.3 418.7h.01M827.1 419.4h.01M828.0 420.2h.01M798.7 422.9h.01M800.6 422.7h.01M802.8 422.5h.01M803.5 424.7h.01M803.8 423.8h.01M806.4 424.3h.01M804.0 422.6h.01M804.7 423.7h.01M805.7 424.9h.01M807.8 424.0h.01M809.0 426.2h.01M809.2 423.9h.01M817.6 421.6h.01M819.9 422.5h.01M819.8 421.3h.01M820.0 421.2h.01M822.8 422.3h.01M800.6 408.4h.01M826.4 430.4h.01M827.9 435.4h.01M828.6 434.6h.01M830.5 432.9h.01M832.8 434.5h.01M833.0 432.3h.01M834.5 432.8h.01M834.5 431.7h.01M836.3 431.7h.01M835.1 433.2h.01M836.0 432.4h.01M838.6 435.6h.01M827.5 439.3h.01M828.7 440.1h.01M828.1 442.6h.01M828.4 441.9h.01M827.4 444.1h.01M830.6 446.3h.01M827.7 445.0h.01M828.7 445.0h.01M829.0 447.0h.01M829.2 447.3h.01M829.4 450.0h.01M834.9 439.2h.01M835.8 439.8h.01M837.0 441.6h.01M837.6 442.8h.01M837.2 442.9h.01M839.7 442.1h.01M828.0 459.4h.01M837.0 456.0h.01M827.4 482.4h.01M801.0 408.0h.01M800.4 414.6h.01M802.1 417.3h.01M802.1 417.8h.01M803.0 418.5h.01M803.5 419.9h.01M804.8 417.4h.01M803.7 419.7h.01M807.2 419.7h.01M805.9 420.7h.01M808.7 418.5h.01M808.6 420.5h.01M807.4 418.5h.01M809.1 420.5h.01M811.7 418.0h.01M812.0 418.8h.01M812.5 417.4h.01M813.4 416.9h.01M813.9 415.9h.01M812.0 415.1h.01M812.9 414.5h.01M813.4 415.6h.01M814.9 415.3h.01M814.7 416.8h.01M816.2 417.1h.01M817.5 417.0h.01M817.1 417.3h.01M818.9 418.4h.01M819.9 417.6h.01M819.2 418.6h.01M821.0 416.6h.01M820.3 416.7h.01M822.7 418.5h.01M822.9 418.7h.01M823.1 418.3h.01M824.5 418.4h.01M824.6 419.8h.01M826.7 418.6h.01M826.1 420.9h.01M804.3 423.4h.01M805.3 423.6h.01M805.5 422.4h.01M806.7 422.6h.01M809.0 423.9h.01M809.4 425.0h.01M826.6 430.4h.01M831.0 434.1h.01M830.0 434.7h.01M831.9 437.8h.01M831.5 437.6h.01M831.3 439.0h.01M832.7 440.3h.01M833.6 439.4h.01M832.8 437.2h.01M832.9 438.3h.01M833.0 434.9h.01M828.5 442.9h.01M829.8 442.6h.01M829.8 444.9h.01M828.8 444.3h.01M829.6 445.7h.01M828.2 447.9h.01M828.9 447.8h.01M828.0 459.0h.01M836.3 439.2h.01M835.1 440.4h.01M836.8 440.0h.01M837.4 443.2h.01M837.9 443.8h.01M839.4 443.0h.01M837.5 444.6h.01M839.9 444.3h.01M839.0 447.1h.01M841.8 446.1h.01M841.3 448.2h.01M840.4 446.5h.01M840.9 449.5h.01M842.3 450.0h.01M841.3 450.1h.01M842.4 451.7h.01M842.6 453.3h.01M840.9 453.8h.01M840.5 453.7h.01M839.6 453.1h.01M839.2 451.7h.01M839.7 454.4h.01M837.1 454.6h.01M836.9 455.6h.01M835.6 453.6h.01M836.1 455.4h.01M837.9 457.1h.01M837.2 456.6h.01M838.0 456.7h.01M836.2 458.8h.01M837.8 459.6h.01M837.7 457.9h.01M839.1 456.4h.01M839.7 456.7h.01M841.6 457.8h.01M843.0 457.3h.01M847.6 451.1h.01M848.7 448.9h.01M847.4 449.0h.01M847.2 449.2h.01M846.9 448.2h.01M847.5 445.5h.01M848.4 446.2h.01M847.8 443.7h.01M850.5 443.6h.01M848.3 443.5h.01M850.1 441.4h.01M852.5 455.1h.01M853.0 452.7h.01M855.5 451.6h.01M854.2 449.9h.01M855.5 450.5h.01M854.8 449.7h.01M854.6 449.9h.01M855.9 449.1h.01M856.1 447.7h.01M855.5 445.1h.01M858.5 446.6h.01M857.6 447.0h.01M856.9 447.0h.01M856.0 449.5h.01M857.6 449.2h.01M857.5 449.8h.01M857.4 450.9h.01M857.0 452.4h.01M859.2 437.8h.01M859.4 438.4h.01M858.8 436.4h.01M861.1 436.1h.01M861.4 435.9h.01M861.2 434.1h.01M861.3 435.1h.01M862.2 433.8h.01M862.1 431.8h.01M864.5 432.0h.01M863.5 429.7h.01M864.1 428.8h.01M865.9 431.0h.01M866.0 428.0h.01M867.1 427.0h.01M867.0 428.1h.01M864.8 428.2h.01M866.5 427.1h.01M867.6 425.1h.01M862.0 444.0h.01M871.2 439.0h.01M871.8 438.7h.01M869.5 438.0h.01M870.1 436.4h.01M872.4 435.8h.01M870.9 436.3h.01M871.8 437.5h.01M874.3 436.5h.01M875.1 434.3h.01M874.9 433.0h.01M875.9 433.8h.01M875.7 431.1h.01M870.0 447.0h.01M877.7 458.4h.01M879.2 458.4h.01M880.2 457.9h.01M879.6 459.9h.01M879.9 460.9h.01M878.0 463.5h.01M878.3 462.8h.01M880.3 462.2h.01M880.1 463.7h.01M878.9 464.1h.01M881.5 465.6h.01M880.0 466.0h.01M879.2 466.3h.01M882.3 466.2h.01M881.8 463.6h.01M882.5 464.7h.01M883.5 463.7h.01M884.1 462.4h.01M886.3 462.9h.01M886.0 463.4h.01M886.0 462.7h.01M886.5 463.0h.01M885.5 462.3h.01M887.1 463.9h.01M886.1 465.3h.01M885.4 465.8h.01M884.6 468.0h.01M885.2 469.1h.01M877.1 473.2h.01M877.5 473.2h.01M878.0 474.5h.01M878.4 476.6h.01M878.2 477.7h.01M877.9 478.4h.01M889.4 457.0h.01M887.5 458.2h.01M889.5 457.9h.01M889.4 460.7h.01M890.6 458.9h.01M890.0 460.2h.01M890.6 459.1h.01M892.3 458.2h.01M892.8 458.7h.01M891.9 458.2h.01M893.0 454.5h.01M894.9 456.2h.01M894.6 455.8h.01M895.9 456.9h.01M896.2 457.4h.01M896.2 459.5h.01M891.6 449.9h.01M890.8 449.5h.01M893.0 446.9h.01M892.8 447.7h.01M891.5 447.1h.01M894.2 443.6h.01M892.2 443.7h.01M893.2 443.3h.01M895.0 443.5h.01M895.4 443.9h.01M895.6 444.9h.01M897.0 443.6h.01M895.6 444.2h.01M896.2 445.4h.01M897.6 448.4h.01M898.8 447.4h.01M896.0 450.1h.01M897.5 451.5h.01M897.7 450.4h.01M898.6 443.4h.01M900.8 441.3h.01M901.3 441.9h.01M903.3 440.4h.01M902.0 439.7h.01M904.3 439.7h.01M903.8 439.2h.01M903.4 438.2h.01M902.9 437.2h.01M905.2 434.7h.01M903.6 437.2h.01M905.7 433.4h.01M904.8 434.4h.01M905.7 432.9h.01M903.6 431.4h.01M905.7 431.7h.01M904.1 431.5h.01M905.7 430.5h.01M903.9 428.8h.01M905.0 428.3h.01M905.3 425.8h.01M906.5 425.3h.01M906.9 425.4h.01M906.6 426.0h.01M905.8 424.7h.01M906.1 424.4h.01M906.5 422.7h.01M907.6 421.0h.01M908.2 421.0h.01M908.7 418.8h.01M909.6 418.4h.01M911.5 417.6h.01M909.8 417.1h.01M911.6 416.4h.01M910.7 417.1h.01M910.0 415.8h.01M909.8 412.8h.01M909.1 412.8h.01M913.0 418.0h.01M914.2 428.0h.01M913.3 430.8h.01M913.3 429.9h.01M914.6 431.8h.01M916.4 434.3h.01M914.2 433.2h.01M915.5 431.0h.01M916.3 433.3h.01M916.6 431.8h.01M918.7 429.6h.01M919.4 429.7h.01M917.2 432.7h.01M916.1 432.6h.01M916.3 433.9h.01M915.8 433.9h.01M916.3 434.7h.01M915.7 436.0h.01M917.1 435.8h.01M918.8 437.2h.01M917.7 437.2h.01M920.3 437.1h.01M920.8 437.7h.01M921.4 438.7h.01M920.6 441.2h.01M919.4 439.6h.01M921.6 442.3h.01M921.7 441.3h.01M920.0 441.5h.01M918.8 442.3h.01M918.3 442.9h.01M916.3 444.5h.01M923.7 444.0h.01M925.4 443.1h.01M924.6 445.0h.01M926.2 446.7h.01M926.2 446.7h.01M928.3 447.3h.01M928.5 449.3h.01M928.8 450.4h.01M926.6 451.0h.01M928.0 450.1h.01M929.4 452.5h.01M929.0 453.2h.01M926.7 454.2h.01M928.0 452.7h.01M930.4 453.0h.01M929.9 454.7h.01M928.9 453.5h.01M929.1 451.9h.01M931.0 451.6h.01M929.2 449.0h.01M932.3 448.7h.01M930.8 447.6h.01M827.4 482.4h.01M877.6 500.4h.01M877.4 473.5h.01M877.4 473.8h.01M877.4 475.0h.01M876.6 477.0h.01M878.4 477.6h.01M878.6 477.9h.01M878.3 478.4h.01M621.8 435.7h.01M622.6 437.1h.01M622.6 436.3h.01M622.5 437.9h.01M621.2 438.6h.01M623.0 441.1h.01M623.1 440.5h.01M620.7 439.9h.01M621.7 441.1h.01M620.7 441.7h.01M619.9 444.7h.01M623.1 459.1h.01M623.9 460.1h.01M624.2 459.3h.01M624.9 459.4h.01M625.4 461.6h.01M624.4 464.2h.01M625.6 461.4h.01M627.3 463.1h.01M624.8 463.5h.01M624.1 466.7h.01M625.5 467.0h.01M624.2 467.3h.01M631.5 464.6h.01M632.6 465.7h.01M630.8 465.1h.01M631.5 464.2h.01M635.0 463.6h.01M634.2 464.0h.01M633.9 463.6h.01M635.3 463.7h.01M636.0 465.2h.01M638.2 465.9h.01M638.4 465.3h.01M639.0 467.0h.01M637.4 466.4h.01M638.2 467.6h.01M635.1 468.5h.01M636.7 471.4h.01M636.5 470.5h.01M638.1 471.6h.01M637.3 471.4h.01M639.1 471.7h.01M637.8 473.4h.01M640.7 458.4h.01M641.2 460.6h.01M640.7 459.7h.01M642.2 460.9h.01M644.0 463.1h.01M630.8 475.9h.01M630.9 475.0h.01M631.5 476.0h.01M628.1 477.8h.01M627.5 478.9h.01M628.7 480.5h.01M628.9 481.1h.01M630.3 481.3h.01M628.8 481.4h.01M629.8 482.7h.01M630.5 484.0h.01M629.4 484.3h.01M631.8 484.0h.01M630.0 484.4h.01M629.5 485.6h.01M630.8 489.1h.01M140.5 39.5h.01" stroke="#000" stroke-width="5.56" stroke-linecap="round" fill="none"/>
<path d="M112.4 317.0C113.0 314.8 114.9 308.8 116.0 304.0C117.1 299.2 118.0 291.7 119.0 288.0C120.0 284.3 121.0 282.0 122.0 282.0C123.0 282.0 124.2 285.7 125.0 288.0C125.8 290.3 126.2 296.7 127.0 296.0C127.8 295.3 129.2 287.3 130.0 284.0C130.8 280.7 131.3 276.5 132.0 276.0C132.7 275.5 133.6 281.7 134.4 281.0C135.2 280.3 136.2 274.2 137.0 272.0C137.8 269.8 138.6 267.3 139.4 268.0C140.2 268.7 141.1 273.7 142.0 276.0C142.9 278.3 144.0 282.0 145.0 282.0C146.0 282.0 146.9 276.5 148.0 276.0C149.1 275.5 150.3 279.1 151.6 279.0C152.9 278.9 154.6 275.6 156.0 275.6C157.4 275.6 158.7 277.9 160.0 279.0C161.3 280.1 162.5 282.6 164.0 282.0C165.5 281.4 167.5 275.8 169.0 275.6C170.5 275.4 171.7 279.8 173.0 281.0C174.3 282.2 175.7 281.8 177.0 283.0C178.3 284.2 179.7 288.0 181.0 288.0C182.3 288.0 183.8 283.0 185.0 283.0C186.2 283.0 186.8 288.2 188.0 288.0C189.2 287.8 190.8 280.7 192.0 282.0C193.2 283.3 194.0 289.7 195.0 296.0C196.0 302.3 197.3 312.7 198.0 320.0C198.7 327.3 198.7 333.3 199.4 340.0C200.1 346.7 201.2 355.3 202.0 360.0C202.8 364.7 203.2 363.7 204.0 368.0C204.8 372.3 206.2 379.0 207.0 386.0C207.8 393.0 208.0 403.0 209.0 410.0C210.0 417.0 211.8 422.0 213.0 428.0C214.2 434.0 215.2 440.0 216.0 446.0C216.8 452.0 217.2 462.3 218.0 464.0C218.8 465.7 220.0 458.0 221.0 456.0C222.0 454.0 222.8 453.0 224.0 452.0C225.2 451.0 226.7 451.2 228.0 450.0C229.3 448.8 230.5 445.7 232.0 445.0C233.5 444.3 235.3 447.5 237.0 446.0C238.7 444.5 240.2 438.3 242.0 436.0C243.8 433.7 246.0 434.0 248.0 432.0C250.0 430.0 252.3 427.3 254.0 424.0C255.7 420.7 257.0 414.2 258.0 412.0C259.0 409.8 259.0 413.0 260.0 411.0C261.0 409.0 262.5 404.5 264.0 400.0C265.5 395.5 267.6 385.8 269.0 384.0C270.4 382.2 271.2 386.3 272.4 389.0C273.6 391.7 274.7 400.8 276.0 400.0C277.3 399.2 278.8 385.3 280.0 384.0C281.2 382.7 281.7 393.0 283.0 392.0C284.3 391.0 286.5 379.2 288.0 378.0C289.5 376.8 290.5 386.7 292.0 385.0C293.5 383.3 295.3 372.2 297.0 368.0C298.7 363.8 300.3 362.8 302.0 360.0C303.7 357.2 305.3 353.3 307.0 351.0C308.7 348.7 310.7 348.8 312.0 346.0C313.3 343.2 314.0 336.8 315.0 334.0C316.0 331.2 316.7 330.0 318.0 329.0C319.3 328.0 321.5 328.0 323.0 328.0C324.5 328.0 325.5 330.3 327.0 329.0C328.5 327.7 330.7 320.8 332.0 320.0C333.3 319.2 333.7 325.7 335.0 324.0C336.3 322.3 338.6 312.8 340.0 310.0C341.4 307.2 342.6 306.3 343.6 307.0C344.6 307.7 345.1 310.2 346.0 314.0C346.9 317.8 348.2 326.3 349.0 330.0C349.8 333.7 350.2 335.3 351.0 336.0C351.8 336.7 352.8 332.7 353.6 334.0C354.4 335.3 355.2 340.0 356.0 344.0C356.8 348.0 357.5 355.7 358.4 358.0C359.3 360.3 360.7 356.3 361.6 358.0C362.5 359.7 363.1 364.3 364.0 368.0C364.9 371.7 365.7 377.5 367.0 380.0C368.3 382.5 370.2 381.2 372.0 383.0C373.8 384.8 376.3 388.7 378.0 391.0C379.7 393.3 380.5 393.8 382.0 397.0C383.5 400.2 385.5 407.7 387.0 410.0C388.5 412.3 389.5 408.7 391.0 411.0C392.5 413.3 394.2 420.2 396.0 424.0C397.8 427.8 400.3 433.0 402.0 434.0C403.7 435.0 404.7 429.5 406.0 430.0C407.3 430.5 408.2 437.7 410.0 437.0C411.8 436.3 415.3 425.8 417.0 426.0C418.7 426.2 418.8 433.2 420.0 438.0C421.2 442.8 422.7 454.5 424.0 455.0C425.3 455.5 426.7 441.3 428.0 441.0C429.3 440.7 430.3 453.2 432.0 453.0C433.7 452.8 436.5 441.0 438.0 440.0C439.5 439.0 439.7 448.5 441.0 447.0C442.3 445.5 444.2 435.7 446.0 431.0C447.8 426.3 450.0 421.5 452.0 419.0C454.0 416.5 456.0 419.2 458.0 416.0C460.0 412.8 462.0 403.2 464.0 400.0C466.0 396.8 468.0 398.3 470.0 397.0C472.0 395.7 474.4 394.0 476.0 392.0C477.6 390.0 478.1 384.5 479.4 385.0C480.7 385.5 482.2 394.3 484.0 395.0C485.8 395.7 488.3 388.5 490.0 389.0C491.7 389.5 492.7 392.8 494.0 398.0C495.3 403.2 496.7 416.7 498.0 420.0C499.3 423.3 500.7 415.3 502.0 418.0C503.3 420.7 504.7 433.5 506.0 436.0C507.3 438.5 508.3 430.7 510.0 433.0C511.7 435.3 514.5 448.0 516.0 450.0C517.5 452.0 517.8 445.3 519.0 445.0C520.2 444.7 521.5 447.7 523.0 448.0C524.5 448.3 526.3 446.2 528.0 447.0C529.7 447.8 531.2 454.0 533.0 453.0C534.8 452.0 537.2 442.8 539.0 441.0C540.8 439.2 542.3 442.2 544.0 442.0C545.7 441.8 547.3 441.8 549.0 440.0C550.7 438.2 552.5 432.0 554.0 431.0C555.5 430.0 556.7 435.5 558.0 434.0C559.3 432.5 560.7 425.3 562.0 422.0C563.3 418.7 564.8 414.7 566.0 414.0C567.2 413.3 568.0 414.5 569.0 418.0C570.0 421.5 570.8 434.2 572.0 435.0C573.2 435.8 574.7 423.0 576.0 423.0C577.3 423.0 578.7 434.2 580.0 435.0C581.3 435.8 582.3 426.7 584.0 428.0C585.7 429.3 588.5 441.5 590.0 443.0C591.5 444.5 591.8 437.3 593.0 437.0C594.2 436.7 595.5 440.5 597.0 441.0C598.5 441.5 600.2 439.0 602.0 440.0C603.8 441.0 606.2 446.8 608.0 447.0C609.8 447.2 611.0 440.8 613.0 441.0C615.0 441.2 618.0 445.8 620.0 448.0C622.0 450.2 623.5 453.7 625.0 454.0C626.5 454.3 627.7 449.3 629.0 450.0C630.3 450.7 631.2 458.8 633.0 458.0C634.8 457.2 638.3 446.5 640.0 445.0C641.7 443.5 642.0 444.8 643.0 449.0C644.0 453.2 644.8 468.8 646.0 470.0C647.2 471.2 648.5 455.3 650.0 456.0C651.5 456.7 653.5 472.0 655.0 474.0C656.5 476.0 657.6 466.7 659.0 468.0C660.4 469.3 662.1 481.5 663.6 482.0C665.1 482.5 666.4 473.3 668.0 471.0C669.6 468.7 671.3 469.2 673.0 468.0C674.7 466.8 676.3 464.5 678.0 464.0C679.7 463.5 681.3 466.7 683.0 465.0C684.7 463.3 686.3 455.5 688.0 454.0C689.7 452.5 691.3 456.2 693.0 456.0C694.7 455.8 696.3 454.8 698.0 453.0C699.7 451.2 701.5 446.0 703.0 445.0C704.5 444.0 705.7 448.8 707.0 447.0C708.3 445.2 709.7 437.0 711.0 434.0C712.3 431.0 713.8 429.0 715.0 429.0C716.2 429.0 716.8 430.5 718.0 434.0C719.2 437.5 720.8 449.2 722.0 450.0C723.2 450.8 723.8 438.8 725.0 439.0C726.2 439.2 727.7 450.8 729.0 451.0C730.3 451.2 731.6 440.0 733.0 440.0C734.4 440.0 736.1 451.0 737.6 451.0C739.1 451.0 740.6 442.2 742.0 440.0C743.4 437.8 744.5 439.2 746.0 438.0C747.5 436.8 749.3 433.7 751.0 433.0C752.7 432.3 754.3 435.7 756.0 434.0C757.7 432.3 759.5 424.5 761.0 423.0C762.5 421.5 763.7 425.0 765.0 425.0C766.3 425.0 767.5 422.5 769.0 423.0C770.5 423.5 772.5 428.5 774.0 428.0C775.5 427.5 776.7 420.7 778.0 420.0C779.3 419.3 780.3 425.5 782.0 424.0C783.7 422.5 786.5 412.2 788.0 411.0C789.5 409.8 789.8 412.8 791.0 417.0C792.2 421.2 793.7 434.3 795.0 436.0C796.3 437.7 797.5 426.0 799.0 427.0C800.5 428.0 802.5 440.8 804.0 442.0C805.5 443.2 806.5 433.2 808.0 434.0C809.5 434.8 811.5 446.3 813.0 447.0C814.5 447.7 815.5 439.2 817.0 438.0C818.5 436.8 820.3 440.7 822.0 440.0C823.7 439.3 825.5 434.2 827.0 434.0C828.5 433.8 829.5 439.7 831.0 439.0C832.5 438.3 834.5 430.8 836.0 430.0C837.5 429.2 838.7 433.5 840.0 434.0C841.3 434.5 842.7 432.5 844.0 433.0C845.3 433.5 846.5 437.5 848.0 437.0C849.5 436.5 851.7 430.5 853.0 430.0C854.3 429.5 854.8 435.0 856.0 434.0C857.2 433.0 858.8 426.2 860.0 424.0C861.2 421.8 862.0 420.5 863.0 421.0C864.0 421.5 865.0 422.7 866.0 427.0C867.0 431.3 868.0 445.5 869.0 447.0C870.0 448.5 870.7 435.0 872.0 436.0C873.3 437.0 875.5 451.7 877.0 453.0C878.5 454.3 879.5 443.2 881.0 444.0C882.5 444.8 884.3 457.7 886.0 458.0C887.7 458.3 889.7 447.7 891.0 446.0C892.3 444.3 892.7 448.2 894.0 448.0C895.3 447.8 897.3 444.8 899.0 445.0C900.7 445.2 902.0 449.8 904.0 449.0C906.0 448.2 909.0 440.5 911.0 440.0C913.0 439.5 914.3 444.7 916.0 446.0C917.7 447.3 919.5 448.8 921.0 448.0C922.5 447.2 923.5 441.5 925.0 441.0C926.5 440.5 928.8 445.2 930.0 445.0C931.2 444.8 931.7 440.8 932.0 440.0" fill="none" stroke="#0072B2" stroke-width="2.08" stroke-linejoin="round" stroke-linecap="round"/>
<path d="M931.2 440.0L931.2 416.0L932.0 408.0L934.4 404.0L936.8 402.4L939.2 405.6L940.8 411.2L941.6 416.0L943.2 424.0L944.0 428.0L944.2 452.0L943.2 457.0L940.4 449.0L938.0 444.0L934.0 441.0L931.2 440.0Z" fill="#0072B2" stroke="#0072B2" stroke-width="1" stroke-linejoin="round"/>
<path d="M935.6 428.8h.01M937.6 430.4h.01M933.6 434.4h.01M936.0 435.0h.01M932.0 438.4h.01M938.4 439.2h.01M936.8 440.8h.01M934.6 431.5h.01M935.0 438.0h.01" stroke="#f00" stroke-width="5.6" stroke-linecap="round" fill="none"/>
</g>
<path d="M190.50 542.5v4.86M338.50 542.5v4.86M486.50 542.5v4.86M635.50 542.5v4.86M783.50 542.5v4.86M932.50 542.5v4.86M71.5 487.50h-4.86M71.5 424.50h-4.86M71.5 362.50h-4.86M71.5 299.50h-4.86M71.5 236.50h-4.86M71.5 174.50h-4.86M71.5 111.50h-4.86M71.5 49.50h-4.86" stroke="#000" stroke-width="1.11" fill="none"/>
<rect x="71.5" y="15.5" width="914.0" height="527.0" fill="none" stroke="#000" stroke-width="1.11"/>
<text x="189.55" y="561.7" text-anchor="middle">2016</text>
<text x="337.65" y="561.7" text-anchor="middle">2018</text>
<text x="486.50" y="561.7" text-anchor="middle">2020</text>
<text x="634.65" y="561.7" text-anchor="middle">2022</text>
<text x="783.50" y="561.7" text-anchor="middle">2024</text>
<text x="931.55" y="561.7" text-anchor="middle">2026</text>
<text x="59.47" y="491.80" text-anchor="end" letter-spacing="-.75">350</text>
<text x="59.47" y="429.80" text-anchor="end" letter-spacing="-.75">400</text>
<text x="59.47" y="366.80" text-anchor="end" letter-spacing="-.75">450</text>
<text x="59.47" y="303.80" text-anchor="end" letter-spacing="-.75">500</text>
<text x="59.47" y="241.80" text-anchor="end" letter-spacing="-.75">550</text>
<text x="61.7" y="178.80" text-anchor="end">600</text>
<text x="61.7" y="116.80" text-anchor="end">650</text>
<text x="59.47" y="53.80" text-anchor="end" letter-spacing="-.75">700</text>
<text x="527.85" y="581.6" text-anchor="middle" letter-spacing="-1.1">ds</text>
<text transform="translate(25.2,278.8) rotate(-90)" text-anchor="middle">y</text>
</svg>
</body></html>
